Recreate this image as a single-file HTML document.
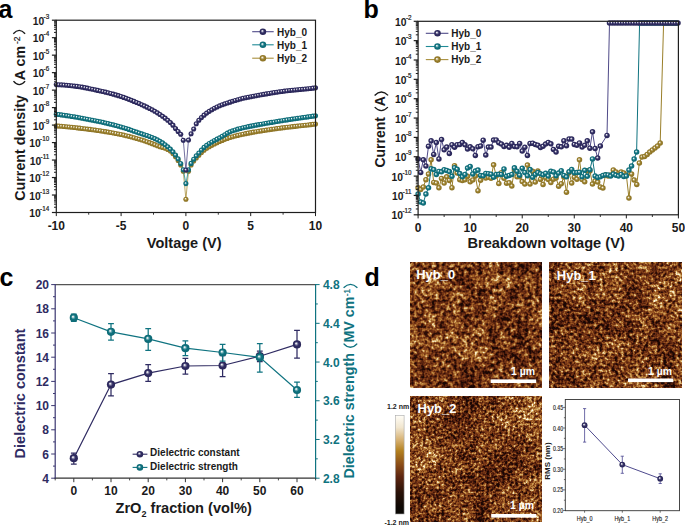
<!DOCTYPE html>
<html><head><meta charset="utf-8"><style>
html,body{margin:0;padding:0;background:#fff;width:685px;height:525px;overflow:hidden}
svg{display:block;font-family:"Liberation Sans",sans-serif}
</style></head><body>
<svg width="685" height="525" viewBox="0 0 685 525" font-family="Liberation Sans, sans-serif">
<defs>
<radialGradient id="gp" cx="0.5" cy="0.5" r="0.5" fx="0.38" fy="0.36"><stop offset="0" stop-color="#ffffff"/><stop offset="0.16" stop-color="#d5d5e0"/><stop offset="0.3" stop-color="#8280a1"/><stop offset="0.55" stop-color="#2f2b62"/><stop offset="1" stop-color="#2a2758"/></radialGradient>
<radialGradient id="gt" cx="0.5" cy="0.5" r="0.5" fx="0.38" fy="0.36"><stop offset="0" stop-color="#ffffff"/><stop offset="0.16" stop-color="#cfe3e6"/><stop offset="0.3" stop-color="#6fabb3"/><stop offset="0.55" stop-color="#0f7380"/><stop offset="1" stop-color="#0e6873"/></radialGradient>
<radialGradient id="gg" cx="0.5" cy="0.5" r="0.5" fx="0.38" fy="0.36"><stop offset="0" stop-color="#ffffff"/><stop offset="0.16" stop-color="#ebe5d4"/><stop offset="0.3" stop-color="#c2b27f"/><stop offset="0.55" stop-color="#9a7f2a"/><stop offset="1" stop-color="#8b7226"/></radialGradient>
<clipPath id="cpa"><rect x="56.3" y="17.2" width="262.2" height="195.3"/></clipPath>
</defs>
<rect width="685" height="525" fill="#ffffff"/>
<text x="-1.5" y="18.2" font-size="25" font-weight="bold" fill="#000">a</text>
<text x="363.5" y="18.2" font-size="25" font-weight="bold" fill="#000">b</text>
<text x="-0.5" y="285.8" font-size="25" font-weight="bold" fill="#000">c</text>
<text x="364.6" y="285.7" font-size="25" font-weight="bold" fill="#000">d</text>
<path d="M56.30 125.90 L58.89 126.10 L61.48 126.31 L64.08 126.53 L66.67 126.77 L69.26 127.03 L71.85 127.29 L74.44 127.56 L77.04 127.85 L79.63 128.15 L82.22 128.45 L84.81 128.77 L87.40 129.09 L90.00 129.42 L92.59 129.75 L95.18 130.11 L97.77 130.47 L100.36 130.85 L102.96 131.25 L105.55 131.66 L108.14 132.10 L110.73 132.54 L113.32 133.01 L115.92 133.50 L118.51 134.00 L121.10 134.53 L123.69 135.09 L126.28 135.70 L128.88 136.35 L131.47 137.04 L134.06 137.76 L136.65 138.50 L139.24 139.26 L141.84 140.04 L144.43 140.86 L147.02 141.73 L149.61 142.65 L152.20 143.63 L154.80 144.66 L157.39 145.70 L159.98 146.67 L162.57 147.49 L165.16 148.32 L167.76 149.40 L170.35 151.07 L172.94 153.62 L175.53 156.68 L178.12 160.39 L180.72 165.00 L183.31 171.20 L185.90 199.30 L188.49 171.20 L191.08 165.00 L193.68 161.00 L196.27 157.92 L198.86 155.20 L201.45 152.54 L204.04 150.25 L206.64 148.31 L209.23 146.69 L211.82 145.34 L214.41 144.04 L217.00 142.71 L219.60 141.50 L222.19 140.40 L224.78 139.37 L227.37 138.41 L229.96 137.54 L232.56 136.77 L235.15 136.07 L237.74 135.42 L240.33 134.81 L242.92 134.23 L245.52 133.66 L248.11 133.13 L250.70 132.63 L253.29 132.17 L255.88 131.73 L258.48 131.30 L261.07 130.88 L263.66 130.48 L266.25 130.09 L268.84 129.70 L271.44 129.33 L274.03 128.97 L276.62 128.61 L279.21 128.26 L281.80 127.92 L284.40 127.58 L286.99 127.26 L289.58 126.95 L292.17 126.66 L294.76 126.38 L297.36 126.10 L299.95 125.82 L302.54 125.54 L305.13 125.26 L307.72 124.97 L310.32 124.67 L312.91 124.35 L315.50 124.00" fill="none" stroke="#a88f3c" stroke-width="0.8"/>
<circle cx="56.30" cy="125.90" r="2.55" fill="url(#gg)"/>
<circle cx="58.89" cy="126.10" r="2.55" fill="url(#gg)"/>
<circle cx="61.48" cy="126.31" r="2.55" fill="url(#gg)"/>
<circle cx="64.08" cy="126.53" r="2.55" fill="url(#gg)"/>
<circle cx="66.67" cy="126.77" r="2.55" fill="url(#gg)"/>
<circle cx="69.26" cy="127.03" r="2.55" fill="url(#gg)"/>
<circle cx="71.85" cy="127.29" r="2.55" fill="url(#gg)"/>
<circle cx="74.44" cy="127.56" r="2.55" fill="url(#gg)"/>
<circle cx="77.04" cy="127.85" r="2.55" fill="url(#gg)"/>
<circle cx="79.63" cy="128.15" r="2.55" fill="url(#gg)"/>
<circle cx="82.22" cy="128.45" r="2.55" fill="url(#gg)"/>
<circle cx="84.81" cy="128.77" r="2.55" fill="url(#gg)"/>
<circle cx="87.40" cy="129.09" r="2.55" fill="url(#gg)"/>
<circle cx="90.00" cy="129.42" r="2.55" fill="url(#gg)"/>
<circle cx="92.59" cy="129.75" r="2.55" fill="url(#gg)"/>
<circle cx="95.18" cy="130.11" r="2.55" fill="url(#gg)"/>
<circle cx="97.77" cy="130.47" r="2.55" fill="url(#gg)"/>
<circle cx="100.36" cy="130.85" r="2.55" fill="url(#gg)"/>
<circle cx="102.96" cy="131.25" r="2.55" fill="url(#gg)"/>
<circle cx="105.55" cy="131.66" r="2.55" fill="url(#gg)"/>
<circle cx="108.14" cy="132.10" r="2.55" fill="url(#gg)"/>
<circle cx="110.73" cy="132.54" r="2.55" fill="url(#gg)"/>
<circle cx="113.32" cy="133.01" r="2.55" fill="url(#gg)"/>
<circle cx="115.92" cy="133.50" r="2.55" fill="url(#gg)"/>
<circle cx="118.51" cy="134.00" r="2.55" fill="url(#gg)"/>
<circle cx="121.10" cy="134.53" r="2.55" fill="url(#gg)"/>
<circle cx="123.69" cy="135.09" r="2.55" fill="url(#gg)"/>
<circle cx="126.28" cy="135.70" r="2.55" fill="url(#gg)"/>
<circle cx="128.88" cy="136.35" r="2.55" fill="url(#gg)"/>
<circle cx="131.47" cy="137.04" r="2.55" fill="url(#gg)"/>
<circle cx="134.06" cy="137.76" r="2.55" fill="url(#gg)"/>
<circle cx="136.65" cy="138.50" r="2.55" fill="url(#gg)"/>
<circle cx="139.24" cy="139.26" r="2.55" fill="url(#gg)"/>
<circle cx="141.84" cy="140.04" r="2.55" fill="url(#gg)"/>
<circle cx="144.43" cy="140.86" r="2.55" fill="url(#gg)"/>
<circle cx="147.02" cy="141.73" r="2.55" fill="url(#gg)"/>
<circle cx="149.61" cy="142.65" r="2.55" fill="url(#gg)"/>
<circle cx="152.20" cy="143.63" r="2.55" fill="url(#gg)"/>
<circle cx="154.80" cy="144.66" r="2.55" fill="url(#gg)"/>
<circle cx="157.39" cy="145.70" r="2.55" fill="url(#gg)"/>
<circle cx="159.98" cy="146.67" r="2.55" fill="url(#gg)"/>
<circle cx="162.57" cy="147.49" r="2.55" fill="url(#gg)"/>
<circle cx="165.16" cy="148.32" r="2.55" fill="url(#gg)"/>
<circle cx="167.76" cy="149.40" r="2.55" fill="url(#gg)"/>
<circle cx="170.35" cy="151.07" r="2.55" fill="url(#gg)"/>
<circle cx="172.94" cy="153.62" r="2.55" fill="url(#gg)"/>
<circle cx="175.53" cy="156.68" r="2.55" fill="url(#gg)"/>
<circle cx="178.12" cy="160.39" r="2.55" fill="url(#gg)"/>
<circle cx="180.72" cy="165.00" r="2.55" fill="url(#gg)"/>
<circle cx="183.31" cy="171.20" r="2.55" fill="url(#gg)"/>
<circle cx="185.90" cy="199.30" r="2.55" fill="url(#gg)"/>
<circle cx="188.49" cy="171.20" r="2.55" fill="url(#gg)"/>
<circle cx="191.08" cy="165.00" r="2.55" fill="url(#gg)"/>
<circle cx="193.68" cy="161.00" r="2.55" fill="url(#gg)"/>
<circle cx="196.27" cy="157.92" r="2.55" fill="url(#gg)"/>
<circle cx="198.86" cy="155.20" r="2.55" fill="url(#gg)"/>
<circle cx="201.45" cy="152.54" r="2.55" fill="url(#gg)"/>
<circle cx="204.04" cy="150.25" r="2.55" fill="url(#gg)"/>
<circle cx="206.64" cy="148.31" r="2.55" fill="url(#gg)"/>
<circle cx="209.23" cy="146.69" r="2.55" fill="url(#gg)"/>
<circle cx="211.82" cy="145.34" r="2.55" fill="url(#gg)"/>
<circle cx="214.41" cy="144.04" r="2.55" fill="url(#gg)"/>
<circle cx="217.00" cy="142.71" r="2.55" fill="url(#gg)"/>
<circle cx="219.60" cy="141.50" r="2.55" fill="url(#gg)"/>
<circle cx="222.19" cy="140.40" r="2.55" fill="url(#gg)"/>
<circle cx="224.78" cy="139.37" r="2.55" fill="url(#gg)"/>
<circle cx="227.37" cy="138.41" r="2.55" fill="url(#gg)"/>
<circle cx="229.96" cy="137.54" r="2.55" fill="url(#gg)"/>
<circle cx="232.56" cy="136.77" r="2.55" fill="url(#gg)"/>
<circle cx="235.15" cy="136.07" r="2.55" fill="url(#gg)"/>
<circle cx="237.74" cy="135.42" r="2.55" fill="url(#gg)"/>
<circle cx="240.33" cy="134.81" r="2.55" fill="url(#gg)"/>
<circle cx="242.92" cy="134.23" r="2.55" fill="url(#gg)"/>
<circle cx="245.52" cy="133.66" r="2.55" fill="url(#gg)"/>
<circle cx="248.11" cy="133.13" r="2.55" fill="url(#gg)"/>
<circle cx="250.70" cy="132.63" r="2.55" fill="url(#gg)"/>
<circle cx="253.29" cy="132.17" r="2.55" fill="url(#gg)"/>
<circle cx="255.88" cy="131.73" r="2.55" fill="url(#gg)"/>
<circle cx="258.48" cy="131.30" r="2.55" fill="url(#gg)"/>
<circle cx="261.07" cy="130.88" r="2.55" fill="url(#gg)"/>
<circle cx="263.66" cy="130.48" r="2.55" fill="url(#gg)"/>
<circle cx="266.25" cy="130.09" r="2.55" fill="url(#gg)"/>
<circle cx="268.84" cy="129.70" r="2.55" fill="url(#gg)"/>
<circle cx="271.44" cy="129.33" r="2.55" fill="url(#gg)"/>
<circle cx="274.03" cy="128.97" r="2.55" fill="url(#gg)"/>
<circle cx="276.62" cy="128.61" r="2.55" fill="url(#gg)"/>
<circle cx="279.21" cy="128.26" r="2.55" fill="url(#gg)"/>
<circle cx="281.80" cy="127.92" r="2.55" fill="url(#gg)"/>
<circle cx="284.40" cy="127.58" r="2.55" fill="url(#gg)"/>
<circle cx="286.99" cy="127.26" r="2.55" fill="url(#gg)"/>
<circle cx="289.58" cy="126.95" r="2.55" fill="url(#gg)"/>
<circle cx="292.17" cy="126.66" r="2.55" fill="url(#gg)"/>
<circle cx="294.76" cy="126.38" r="2.55" fill="url(#gg)"/>
<circle cx="297.36" cy="126.10" r="2.55" fill="url(#gg)"/>
<circle cx="299.95" cy="125.82" r="2.55" fill="url(#gg)"/>
<circle cx="302.54" cy="125.54" r="2.55" fill="url(#gg)"/>
<circle cx="305.13" cy="125.26" r="2.55" fill="url(#gg)"/>
<circle cx="307.72" cy="124.97" r="2.55" fill="url(#gg)"/>
<circle cx="310.32" cy="124.67" r="2.55" fill="url(#gg)"/>
<circle cx="312.91" cy="124.35" r="2.55" fill="url(#gg)"/>
<circle cx="315.50" cy="124.00" r="2.55" fill="url(#gg)"/>
<path d="M56.30 114.20 L58.89 114.53 L61.48 114.88 L64.08 115.25 L66.67 115.63 L69.26 116.03 L71.85 116.44 L74.44 116.87 L77.04 117.31 L79.63 117.76 L82.22 118.22 L84.81 118.70 L87.40 119.18 L90.00 119.68 L92.59 120.18 L95.18 120.70 L97.77 121.24 L100.36 121.80 L102.96 122.37 L105.55 122.97 L108.14 123.58 L110.73 124.21 L113.32 124.86 L115.92 125.53 L118.51 126.22 L121.10 126.94 L123.69 127.70 L126.28 128.51 L128.88 129.38 L131.47 130.27 L134.06 131.18 L136.65 132.09 L139.24 132.99 L141.84 133.86 L144.43 134.68 L147.02 135.52 L149.61 136.45 L152.20 137.48 L154.80 138.62 L157.39 139.87 L159.98 141.29 L162.57 142.89 L165.16 144.71 L167.76 146.74 L170.35 149.06 L172.94 151.81 L175.53 155.01 L178.12 158.84 L180.72 163.50 L183.31 169.70 L185.90 183.60 L188.49 169.70 L191.08 163.40 L193.68 159.20 L196.27 155.80 L198.86 153.00 L201.45 149.98 L204.04 147.38 L206.64 145.30 L209.23 143.51 L211.82 141.95 L214.41 140.50 L217.00 139.15 L219.60 137.80 L222.19 136.29 L224.78 134.69 L227.37 133.15 L229.96 131.83 L232.56 130.81 L235.15 129.94 L237.74 129.16 L240.33 128.46 L242.92 127.81 L245.52 127.21 L248.11 126.67 L250.70 126.15 L253.29 125.65 L255.88 125.15 L258.48 124.67 L261.07 124.20 L263.66 123.73 L266.25 123.27 L268.84 122.83 L271.44 122.39 L274.03 121.95 L276.62 121.53 L279.21 121.10 L281.80 120.69 L284.40 120.28 L286.99 119.88 L289.58 119.48 L292.17 119.10 L294.76 118.72 L297.36 118.35 L299.95 117.98 L302.54 117.62 L305.13 117.25 L307.72 116.89 L310.32 116.53 L312.91 116.16 L315.50 115.80" fill="none" stroke="#1f8a96" stroke-width="0.8"/>
<circle cx="56.30" cy="114.20" r="2.55" fill="url(#gt)"/>
<circle cx="58.89" cy="114.53" r="2.55" fill="url(#gt)"/>
<circle cx="61.48" cy="114.88" r="2.55" fill="url(#gt)"/>
<circle cx="64.08" cy="115.25" r="2.55" fill="url(#gt)"/>
<circle cx="66.67" cy="115.63" r="2.55" fill="url(#gt)"/>
<circle cx="69.26" cy="116.03" r="2.55" fill="url(#gt)"/>
<circle cx="71.85" cy="116.44" r="2.55" fill="url(#gt)"/>
<circle cx="74.44" cy="116.87" r="2.55" fill="url(#gt)"/>
<circle cx="77.04" cy="117.31" r="2.55" fill="url(#gt)"/>
<circle cx="79.63" cy="117.76" r="2.55" fill="url(#gt)"/>
<circle cx="82.22" cy="118.22" r="2.55" fill="url(#gt)"/>
<circle cx="84.81" cy="118.70" r="2.55" fill="url(#gt)"/>
<circle cx="87.40" cy="119.18" r="2.55" fill="url(#gt)"/>
<circle cx="90.00" cy="119.68" r="2.55" fill="url(#gt)"/>
<circle cx="92.59" cy="120.18" r="2.55" fill="url(#gt)"/>
<circle cx="95.18" cy="120.70" r="2.55" fill="url(#gt)"/>
<circle cx="97.77" cy="121.24" r="2.55" fill="url(#gt)"/>
<circle cx="100.36" cy="121.80" r="2.55" fill="url(#gt)"/>
<circle cx="102.96" cy="122.37" r="2.55" fill="url(#gt)"/>
<circle cx="105.55" cy="122.97" r="2.55" fill="url(#gt)"/>
<circle cx="108.14" cy="123.58" r="2.55" fill="url(#gt)"/>
<circle cx="110.73" cy="124.21" r="2.55" fill="url(#gt)"/>
<circle cx="113.32" cy="124.86" r="2.55" fill="url(#gt)"/>
<circle cx="115.92" cy="125.53" r="2.55" fill="url(#gt)"/>
<circle cx="118.51" cy="126.22" r="2.55" fill="url(#gt)"/>
<circle cx="121.10" cy="126.94" r="2.55" fill="url(#gt)"/>
<circle cx="123.69" cy="127.70" r="2.55" fill="url(#gt)"/>
<circle cx="126.28" cy="128.51" r="2.55" fill="url(#gt)"/>
<circle cx="128.88" cy="129.38" r="2.55" fill="url(#gt)"/>
<circle cx="131.47" cy="130.27" r="2.55" fill="url(#gt)"/>
<circle cx="134.06" cy="131.18" r="2.55" fill="url(#gt)"/>
<circle cx="136.65" cy="132.09" r="2.55" fill="url(#gt)"/>
<circle cx="139.24" cy="132.99" r="2.55" fill="url(#gt)"/>
<circle cx="141.84" cy="133.86" r="2.55" fill="url(#gt)"/>
<circle cx="144.43" cy="134.68" r="2.55" fill="url(#gt)"/>
<circle cx="147.02" cy="135.52" r="2.55" fill="url(#gt)"/>
<circle cx="149.61" cy="136.45" r="2.55" fill="url(#gt)"/>
<circle cx="152.20" cy="137.48" r="2.55" fill="url(#gt)"/>
<circle cx="154.80" cy="138.62" r="2.55" fill="url(#gt)"/>
<circle cx="157.39" cy="139.87" r="2.55" fill="url(#gt)"/>
<circle cx="159.98" cy="141.29" r="2.55" fill="url(#gt)"/>
<circle cx="162.57" cy="142.89" r="2.55" fill="url(#gt)"/>
<circle cx="165.16" cy="144.71" r="2.55" fill="url(#gt)"/>
<circle cx="167.76" cy="146.74" r="2.55" fill="url(#gt)"/>
<circle cx="170.35" cy="149.06" r="2.55" fill="url(#gt)"/>
<circle cx="172.94" cy="151.81" r="2.55" fill="url(#gt)"/>
<circle cx="175.53" cy="155.01" r="2.55" fill="url(#gt)"/>
<circle cx="178.12" cy="158.84" r="2.55" fill="url(#gt)"/>
<circle cx="180.72" cy="163.50" r="2.55" fill="url(#gt)"/>
<circle cx="183.31" cy="169.70" r="2.55" fill="url(#gt)"/>
<circle cx="185.90" cy="183.60" r="2.55" fill="url(#gt)"/>
<circle cx="188.49" cy="169.70" r="2.55" fill="url(#gt)"/>
<circle cx="191.08" cy="163.40" r="2.55" fill="url(#gt)"/>
<circle cx="193.68" cy="159.20" r="2.55" fill="url(#gt)"/>
<circle cx="196.27" cy="155.80" r="2.55" fill="url(#gt)"/>
<circle cx="198.86" cy="153.00" r="2.55" fill="url(#gt)"/>
<circle cx="201.45" cy="149.98" r="2.55" fill="url(#gt)"/>
<circle cx="204.04" cy="147.38" r="2.55" fill="url(#gt)"/>
<circle cx="206.64" cy="145.30" r="2.55" fill="url(#gt)"/>
<circle cx="209.23" cy="143.51" r="2.55" fill="url(#gt)"/>
<circle cx="211.82" cy="141.95" r="2.55" fill="url(#gt)"/>
<circle cx="214.41" cy="140.50" r="2.55" fill="url(#gt)"/>
<circle cx="217.00" cy="139.15" r="2.55" fill="url(#gt)"/>
<circle cx="219.60" cy="137.80" r="2.55" fill="url(#gt)"/>
<circle cx="222.19" cy="136.29" r="2.55" fill="url(#gt)"/>
<circle cx="224.78" cy="134.69" r="2.55" fill="url(#gt)"/>
<circle cx="227.37" cy="133.15" r="2.55" fill="url(#gt)"/>
<circle cx="229.96" cy="131.83" r="2.55" fill="url(#gt)"/>
<circle cx="232.56" cy="130.81" r="2.55" fill="url(#gt)"/>
<circle cx="235.15" cy="129.94" r="2.55" fill="url(#gt)"/>
<circle cx="237.74" cy="129.16" r="2.55" fill="url(#gt)"/>
<circle cx="240.33" cy="128.46" r="2.55" fill="url(#gt)"/>
<circle cx="242.92" cy="127.81" r="2.55" fill="url(#gt)"/>
<circle cx="245.52" cy="127.21" r="2.55" fill="url(#gt)"/>
<circle cx="248.11" cy="126.67" r="2.55" fill="url(#gt)"/>
<circle cx="250.70" cy="126.15" r="2.55" fill="url(#gt)"/>
<circle cx="253.29" cy="125.65" r="2.55" fill="url(#gt)"/>
<circle cx="255.88" cy="125.15" r="2.55" fill="url(#gt)"/>
<circle cx="258.48" cy="124.67" r="2.55" fill="url(#gt)"/>
<circle cx="261.07" cy="124.20" r="2.55" fill="url(#gt)"/>
<circle cx="263.66" cy="123.73" r="2.55" fill="url(#gt)"/>
<circle cx="266.25" cy="123.27" r="2.55" fill="url(#gt)"/>
<circle cx="268.84" cy="122.83" r="2.55" fill="url(#gt)"/>
<circle cx="271.44" cy="122.39" r="2.55" fill="url(#gt)"/>
<circle cx="274.03" cy="121.95" r="2.55" fill="url(#gt)"/>
<circle cx="276.62" cy="121.53" r="2.55" fill="url(#gt)"/>
<circle cx="279.21" cy="121.10" r="2.55" fill="url(#gt)"/>
<circle cx="281.80" cy="120.69" r="2.55" fill="url(#gt)"/>
<circle cx="284.40" cy="120.28" r="2.55" fill="url(#gt)"/>
<circle cx="286.99" cy="119.88" r="2.55" fill="url(#gt)"/>
<circle cx="289.58" cy="119.48" r="2.55" fill="url(#gt)"/>
<circle cx="292.17" cy="119.10" r="2.55" fill="url(#gt)"/>
<circle cx="294.76" cy="118.72" r="2.55" fill="url(#gt)"/>
<circle cx="297.36" cy="118.35" r="2.55" fill="url(#gt)"/>
<circle cx="299.95" cy="117.98" r="2.55" fill="url(#gt)"/>
<circle cx="302.54" cy="117.62" r="2.55" fill="url(#gt)"/>
<circle cx="305.13" cy="117.25" r="2.55" fill="url(#gt)"/>
<circle cx="307.72" cy="116.89" r="2.55" fill="url(#gt)"/>
<circle cx="310.32" cy="116.53" r="2.55" fill="url(#gt)"/>
<circle cx="312.91" cy="116.16" r="2.55" fill="url(#gt)"/>
<circle cx="315.50" cy="115.80" r="2.55" fill="url(#gt)"/>
<path d="M56.30 84.60 L58.89 84.71 L61.48 84.86 L64.08 85.05 L66.67 85.27 L69.26 85.52 L71.85 85.79 L74.44 86.08 L77.04 86.38 L79.63 86.74 L82.22 87.16 L84.81 87.64 L87.40 88.16 L90.00 88.70 L92.59 89.27 L95.18 89.83 L97.77 90.40 L100.36 90.97 L102.96 91.55 L105.55 92.16 L108.14 92.79 L110.73 93.46 L113.32 94.15 L115.92 94.88 L118.51 95.66 L121.10 96.49 L123.69 97.39 L126.28 98.34 L128.88 99.33 L131.47 100.36 L134.06 101.41 L136.65 102.48 L139.24 103.57 L141.84 104.71 L144.43 105.90 L147.02 107.14 L149.61 108.44 L152.20 109.82 L154.80 111.28 L157.39 112.84 L159.98 114.50 L162.57 116.27 L165.16 118.17 L167.76 120.25 L170.35 122.55 L172.94 125.17 L175.53 128.47 L178.12 131.44 L180.72 134.20 L183.31 140.20 L185.90 170.00 L188.49 140.00 L191.08 133.80 L193.68 129.00 L196.27 123.80 L198.86 120.31 L201.45 117.55 L204.04 115.16 L206.64 113.11 L209.23 111.35 L211.82 109.75 L214.41 108.28 L217.00 106.96 L219.60 105.79 L222.19 104.76 L224.78 103.84 L227.37 102.98 L229.96 102.15 L232.56 101.31 L235.15 100.49 L237.74 99.69 L240.33 98.96 L242.92 98.32 L245.52 97.75 L248.11 97.23 L250.70 96.74 L253.29 96.26 L255.88 95.78 L258.48 95.29 L261.07 94.82 L263.66 94.35 L266.25 93.89 L268.84 93.44 L271.44 93.00 L274.03 92.58 L276.62 92.18 L279.21 91.79 L281.80 91.43 L284.40 91.08 L286.99 90.77 L289.58 90.48 L292.17 90.21 L294.76 89.95 L297.36 89.71 L299.95 89.47 L302.54 89.23 L305.13 88.98 L307.72 88.72 L310.32 88.44 L312.91 88.14 L315.50 87.80" fill="none" stroke="#4f4a88" stroke-width="0.8"/>
<circle cx="56.30" cy="84.60" r="2.55" fill="url(#gp)"/>
<circle cx="58.89" cy="84.71" r="2.55" fill="url(#gp)"/>
<circle cx="61.48" cy="84.86" r="2.55" fill="url(#gp)"/>
<circle cx="64.08" cy="85.05" r="2.55" fill="url(#gp)"/>
<circle cx="66.67" cy="85.27" r="2.55" fill="url(#gp)"/>
<circle cx="69.26" cy="85.52" r="2.55" fill="url(#gp)"/>
<circle cx="71.85" cy="85.79" r="2.55" fill="url(#gp)"/>
<circle cx="74.44" cy="86.08" r="2.55" fill="url(#gp)"/>
<circle cx="77.04" cy="86.38" r="2.55" fill="url(#gp)"/>
<circle cx="79.63" cy="86.74" r="2.55" fill="url(#gp)"/>
<circle cx="82.22" cy="87.16" r="2.55" fill="url(#gp)"/>
<circle cx="84.81" cy="87.64" r="2.55" fill="url(#gp)"/>
<circle cx="87.40" cy="88.16" r="2.55" fill="url(#gp)"/>
<circle cx="90.00" cy="88.70" r="2.55" fill="url(#gp)"/>
<circle cx="92.59" cy="89.27" r="2.55" fill="url(#gp)"/>
<circle cx="95.18" cy="89.83" r="2.55" fill="url(#gp)"/>
<circle cx="97.77" cy="90.40" r="2.55" fill="url(#gp)"/>
<circle cx="100.36" cy="90.97" r="2.55" fill="url(#gp)"/>
<circle cx="102.96" cy="91.55" r="2.55" fill="url(#gp)"/>
<circle cx="105.55" cy="92.16" r="2.55" fill="url(#gp)"/>
<circle cx="108.14" cy="92.79" r="2.55" fill="url(#gp)"/>
<circle cx="110.73" cy="93.46" r="2.55" fill="url(#gp)"/>
<circle cx="113.32" cy="94.15" r="2.55" fill="url(#gp)"/>
<circle cx="115.92" cy="94.88" r="2.55" fill="url(#gp)"/>
<circle cx="118.51" cy="95.66" r="2.55" fill="url(#gp)"/>
<circle cx="121.10" cy="96.49" r="2.55" fill="url(#gp)"/>
<circle cx="123.69" cy="97.39" r="2.55" fill="url(#gp)"/>
<circle cx="126.28" cy="98.34" r="2.55" fill="url(#gp)"/>
<circle cx="128.88" cy="99.33" r="2.55" fill="url(#gp)"/>
<circle cx="131.47" cy="100.36" r="2.55" fill="url(#gp)"/>
<circle cx="134.06" cy="101.41" r="2.55" fill="url(#gp)"/>
<circle cx="136.65" cy="102.48" r="2.55" fill="url(#gp)"/>
<circle cx="139.24" cy="103.57" r="2.55" fill="url(#gp)"/>
<circle cx="141.84" cy="104.71" r="2.55" fill="url(#gp)"/>
<circle cx="144.43" cy="105.90" r="2.55" fill="url(#gp)"/>
<circle cx="147.02" cy="107.14" r="2.55" fill="url(#gp)"/>
<circle cx="149.61" cy="108.44" r="2.55" fill="url(#gp)"/>
<circle cx="152.20" cy="109.82" r="2.55" fill="url(#gp)"/>
<circle cx="154.80" cy="111.28" r="2.55" fill="url(#gp)"/>
<circle cx="157.39" cy="112.84" r="2.55" fill="url(#gp)"/>
<circle cx="159.98" cy="114.50" r="2.55" fill="url(#gp)"/>
<circle cx="162.57" cy="116.27" r="2.55" fill="url(#gp)"/>
<circle cx="165.16" cy="118.17" r="2.55" fill="url(#gp)"/>
<circle cx="167.76" cy="120.25" r="2.55" fill="url(#gp)"/>
<circle cx="170.35" cy="122.55" r="2.55" fill="url(#gp)"/>
<circle cx="172.94" cy="125.17" r="2.55" fill="url(#gp)"/>
<circle cx="175.53" cy="128.47" r="2.55" fill="url(#gp)"/>
<circle cx="178.12" cy="131.44" r="2.55" fill="url(#gp)"/>
<circle cx="180.72" cy="134.20" r="2.55" fill="url(#gp)"/>
<circle cx="183.31" cy="140.20" r="2.55" fill="url(#gp)"/>
<circle cx="185.90" cy="170.00" r="2.55" fill="url(#gp)"/>
<circle cx="188.49" cy="140.00" r="2.55" fill="url(#gp)"/>
<circle cx="191.08" cy="133.80" r="2.55" fill="url(#gp)"/>
<circle cx="193.68" cy="129.00" r="2.55" fill="url(#gp)"/>
<circle cx="196.27" cy="123.80" r="2.55" fill="url(#gp)"/>
<circle cx="198.86" cy="120.31" r="2.55" fill="url(#gp)"/>
<circle cx="201.45" cy="117.55" r="2.55" fill="url(#gp)"/>
<circle cx="204.04" cy="115.16" r="2.55" fill="url(#gp)"/>
<circle cx="206.64" cy="113.11" r="2.55" fill="url(#gp)"/>
<circle cx="209.23" cy="111.35" r="2.55" fill="url(#gp)"/>
<circle cx="211.82" cy="109.75" r="2.55" fill="url(#gp)"/>
<circle cx="214.41" cy="108.28" r="2.55" fill="url(#gp)"/>
<circle cx="217.00" cy="106.96" r="2.55" fill="url(#gp)"/>
<circle cx="219.60" cy="105.79" r="2.55" fill="url(#gp)"/>
<circle cx="222.19" cy="104.76" r="2.55" fill="url(#gp)"/>
<circle cx="224.78" cy="103.84" r="2.55" fill="url(#gp)"/>
<circle cx="227.37" cy="102.98" r="2.55" fill="url(#gp)"/>
<circle cx="229.96" cy="102.15" r="2.55" fill="url(#gp)"/>
<circle cx="232.56" cy="101.31" r="2.55" fill="url(#gp)"/>
<circle cx="235.15" cy="100.49" r="2.55" fill="url(#gp)"/>
<circle cx="237.74" cy="99.69" r="2.55" fill="url(#gp)"/>
<circle cx="240.33" cy="98.96" r="2.55" fill="url(#gp)"/>
<circle cx="242.92" cy="98.32" r="2.55" fill="url(#gp)"/>
<circle cx="245.52" cy="97.75" r="2.55" fill="url(#gp)"/>
<circle cx="248.11" cy="97.23" r="2.55" fill="url(#gp)"/>
<circle cx="250.70" cy="96.74" r="2.55" fill="url(#gp)"/>
<circle cx="253.29" cy="96.26" r="2.55" fill="url(#gp)"/>
<circle cx="255.88" cy="95.78" r="2.55" fill="url(#gp)"/>
<circle cx="258.48" cy="95.29" r="2.55" fill="url(#gp)"/>
<circle cx="261.07" cy="94.82" r="2.55" fill="url(#gp)"/>
<circle cx="263.66" cy="94.35" r="2.55" fill="url(#gp)"/>
<circle cx="266.25" cy="93.89" r="2.55" fill="url(#gp)"/>
<circle cx="268.84" cy="93.44" r="2.55" fill="url(#gp)"/>
<circle cx="271.44" cy="93.00" r="2.55" fill="url(#gp)"/>
<circle cx="274.03" cy="92.58" r="2.55" fill="url(#gp)"/>
<circle cx="276.62" cy="92.18" r="2.55" fill="url(#gp)"/>
<circle cx="279.21" cy="91.79" r="2.55" fill="url(#gp)"/>
<circle cx="281.80" cy="91.43" r="2.55" fill="url(#gp)"/>
<circle cx="284.40" cy="91.08" r="2.55" fill="url(#gp)"/>
<circle cx="286.99" cy="90.77" r="2.55" fill="url(#gp)"/>
<circle cx="289.58" cy="90.48" r="2.55" fill="url(#gp)"/>
<circle cx="292.17" cy="90.21" r="2.55" fill="url(#gp)"/>
<circle cx="294.76" cy="89.95" r="2.55" fill="url(#gp)"/>
<circle cx="297.36" cy="89.71" r="2.55" fill="url(#gp)"/>
<circle cx="299.95" cy="89.47" r="2.55" fill="url(#gp)"/>
<circle cx="302.54" cy="89.23" r="2.55" fill="url(#gp)"/>
<circle cx="305.13" cy="88.98" r="2.55" fill="url(#gp)"/>
<circle cx="307.72" cy="88.72" r="2.55" fill="url(#gp)"/>
<circle cx="310.32" cy="88.44" r="2.55" fill="url(#gp)"/>
<circle cx="312.91" cy="88.14" r="2.55" fill="url(#gp)"/>
<circle cx="315.50" cy="87.80" r="2.55" fill="url(#gp)"/>
<rect x="56.3" y="20.2" width="259.2" height="192.3" fill="none" stroke="#1e1e1e" stroke-width="1.2"/>
<line x1="51.90" y1="212.50" x2="56.30" y2="212.50" stroke="#1e1e1e" stroke-width="1.2"/>
<line x1="54.00" y1="207.24" x2="56.30" y2="207.24" stroke="#1e1e1e" stroke-width="1"/>
<line x1="54.00" y1="204.16" x2="56.30" y2="204.16" stroke="#1e1e1e" stroke-width="1"/>
<line x1="54.00" y1="201.97" x2="56.30" y2="201.97" stroke="#1e1e1e" stroke-width="1"/>
<line x1="54.00" y1="200.28" x2="56.30" y2="200.28" stroke="#1e1e1e" stroke-width="1"/>
<line x1="54.00" y1="198.90" x2="56.30" y2="198.90" stroke="#1e1e1e" stroke-width="1"/>
<line x1="54.00" y1="197.73" x2="56.30" y2="197.73" stroke="#1e1e1e" stroke-width="1"/>
<line x1="54.00" y1="196.71" x2="56.30" y2="196.71" stroke="#1e1e1e" stroke-width="1"/>
<line x1="54.00" y1="195.82" x2="56.30" y2="195.82" stroke="#1e1e1e" stroke-width="1"/>
<text x="49.20" y="217.00" font-size="10.3" font-weight="bold" fill="#1a1a1a" text-anchor="end">10<tspan font-size="6.3" font-weight="normal" stroke="#1a1a1a" stroke-width="0.2" dx="-0.6" dy="-6.0">-14</tspan></text>
<line x1="51.90" y1="195.02" x2="56.30" y2="195.02" stroke="#1e1e1e" stroke-width="1.2"/>
<line x1="54.00" y1="189.76" x2="56.30" y2="189.76" stroke="#1e1e1e" stroke-width="1"/>
<line x1="54.00" y1="186.68" x2="56.30" y2="186.68" stroke="#1e1e1e" stroke-width="1"/>
<line x1="54.00" y1="184.49" x2="56.30" y2="184.49" stroke="#1e1e1e" stroke-width="1"/>
<line x1="54.00" y1="182.80" x2="56.30" y2="182.80" stroke="#1e1e1e" stroke-width="1"/>
<line x1="54.00" y1="181.41" x2="56.30" y2="181.41" stroke="#1e1e1e" stroke-width="1"/>
<line x1="54.00" y1="180.24" x2="56.30" y2="180.24" stroke="#1e1e1e" stroke-width="1"/>
<line x1="54.00" y1="179.23" x2="56.30" y2="179.23" stroke="#1e1e1e" stroke-width="1"/>
<line x1="54.00" y1="178.34" x2="56.30" y2="178.34" stroke="#1e1e1e" stroke-width="1"/>
<text x="49.20" y="199.52" font-size="10.3" font-weight="bold" fill="#1a1a1a" text-anchor="end">10<tspan font-size="6.3" font-weight="normal" stroke="#1a1a1a" stroke-width="0.2" dx="-0.6" dy="-6.0">-13</tspan></text>
<line x1="51.90" y1="177.54" x2="56.30" y2="177.54" stroke="#1e1e1e" stroke-width="1.2"/>
<line x1="54.00" y1="172.27" x2="56.30" y2="172.27" stroke="#1e1e1e" stroke-width="1"/>
<line x1="54.00" y1="169.20" x2="56.30" y2="169.20" stroke="#1e1e1e" stroke-width="1"/>
<line x1="54.00" y1="167.01" x2="56.30" y2="167.01" stroke="#1e1e1e" stroke-width="1"/>
<line x1="54.00" y1="165.32" x2="56.30" y2="165.32" stroke="#1e1e1e" stroke-width="1"/>
<line x1="54.00" y1="163.93" x2="56.30" y2="163.93" stroke="#1e1e1e" stroke-width="1"/>
<line x1="54.00" y1="162.76" x2="56.30" y2="162.76" stroke="#1e1e1e" stroke-width="1"/>
<line x1="54.00" y1="161.75" x2="56.30" y2="161.75" stroke="#1e1e1e" stroke-width="1"/>
<line x1="54.00" y1="160.85" x2="56.30" y2="160.85" stroke="#1e1e1e" stroke-width="1"/>
<text x="49.20" y="182.04" font-size="10.3" font-weight="bold" fill="#1a1a1a" text-anchor="end">10<tspan font-size="6.3" font-weight="normal" stroke="#1a1a1a" stroke-width="0.2" dx="-0.6" dy="-6.0">-12</tspan></text>
<line x1="51.90" y1="160.05" x2="56.30" y2="160.05" stroke="#1e1e1e" stroke-width="1.2"/>
<line x1="54.00" y1="154.79" x2="56.30" y2="154.79" stroke="#1e1e1e" stroke-width="1"/>
<line x1="54.00" y1="151.71" x2="56.30" y2="151.71" stroke="#1e1e1e" stroke-width="1"/>
<line x1="54.00" y1="149.53" x2="56.30" y2="149.53" stroke="#1e1e1e" stroke-width="1"/>
<line x1="54.00" y1="147.84" x2="56.30" y2="147.84" stroke="#1e1e1e" stroke-width="1"/>
<line x1="54.00" y1="146.45" x2="56.30" y2="146.45" stroke="#1e1e1e" stroke-width="1"/>
<line x1="54.00" y1="145.28" x2="56.30" y2="145.28" stroke="#1e1e1e" stroke-width="1"/>
<line x1="54.00" y1="144.27" x2="56.30" y2="144.27" stroke="#1e1e1e" stroke-width="1"/>
<line x1="54.00" y1="143.37" x2="56.30" y2="143.37" stroke="#1e1e1e" stroke-width="1"/>
<text x="49.20" y="164.55" font-size="10.3" font-weight="bold" fill="#1a1a1a" text-anchor="end">10<tspan font-size="6.3" font-weight="normal" stroke="#1a1a1a" stroke-width="0.2" dx="-0.6" dy="-6.0">-11</tspan></text>
<line x1="51.90" y1="142.57" x2="56.30" y2="142.57" stroke="#1e1e1e" stroke-width="1.2"/>
<line x1="54.00" y1="137.31" x2="56.30" y2="137.31" stroke="#1e1e1e" stroke-width="1"/>
<line x1="54.00" y1="134.23" x2="56.30" y2="134.23" stroke="#1e1e1e" stroke-width="1"/>
<line x1="54.00" y1="132.05" x2="56.30" y2="132.05" stroke="#1e1e1e" stroke-width="1"/>
<line x1="54.00" y1="130.35" x2="56.30" y2="130.35" stroke="#1e1e1e" stroke-width="1"/>
<line x1="54.00" y1="128.97" x2="56.30" y2="128.97" stroke="#1e1e1e" stroke-width="1"/>
<line x1="54.00" y1="127.80" x2="56.30" y2="127.80" stroke="#1e1e1e" stroke-width="1"/>
<line x1="54.00" y1="126.79" x2="56.30" y2="126.79" stroke="#1e1e1e" stroke-width="1"/>
<line x1="54.00" y1="125.89" x2="56.30" y2="125.89" stroke="#1e1e1e" stroke-width="1"/>
<text x="49.20" y="147.07" font-size="10.3" font-weight="bold" fill="#1a1a1a" text-anchor="end">10<tspan font-size="6.3" font-weight="normal" stroke="#1a1a1a" stroke-width="0.2" dx="-0.6" dy="-6.0">-10</tspan></text>
<line x1="51.90" y1="125.09" x2="56.30" y2="125.09" stroke="#1e1e1e" stroke-width="1.2"/>
<line x1="54.00" y1="119.83" x2="56.30" y2="119.83" stroke="#1e1e1e" stroke-width="1"/>
<line x1="54.00" y1="116.75" x2="56.30" y2="116.75" stroke="#1e1e1e" stroke-width="1"/>
<line x1="54.00" y1="114.57" x2="56.30" y2="114.57" stroke="#1e1e1e" stroke-width="1"/>
<line x1="54.00" y1="112.87" x2="56.30" y2="112.87" stroke="#1e1e1e" stroke-width="1"/>
<line x1="54.00" y1="111.49" x2="56.30" y2="111.49" stroke="#1e1e1e" stroke-width="1"/>
<line x1="54.00" y1="110.32" x2="56.30" y2="110.32" stroke="#1e1e1e" stroke-width="1"/>
<line x1="54.00" y1="109.30" x2="56.30" y2="109.30" stroke="#1e1e1e" stroke-width="1"/>
<line x1="54.00" y1="108.41" x2="56.30" y2="108.41" stroke="#1e1e1e" stroke-width="1"/>
<text x="49.20" y="129.59" font-size="10.3" font-weight="bold" fill="#1a1a1a" text-anchor="end">10<tspan font-size="6.3" font-weight="normal" stroke="#1a1a1a" stroke-width="0.2" dx="-0.6" dy="-6.0">-9</tspan></text>
<line x1="51.90" y1="107.61" x2="56.30" y2="107.61" stroke="#1e1e1e" stroke-width="1.2"/>
<line x1="54.00" y1="102.35" x2="56.30" y2="102.35" stroke="#1e1e1e" stroke-width="1"/>
<line x1="54.00" y1="99.27" x2="56.30" y2="99.27" stroke="#1e1e1e" stroke-width="1"/>
<line x1="54.00" y1="97.08" x2="56.30" y2="97.08" stroke="#1e1e1e" stroke-width="1"/>
<line x1="54.00" y1="95.39" x2="56.30" y2="95.39" stroke="#1e1e1e" stroke-width="1"/>
<line x1="54.00" y1="94.01" x2="56.30" y2="94.01" stroke="#1e1e1e" stroke-width="1"/>
<line x1="54.00" y1="92.84" x2="56.30" y2="92.84" stroke="#1e1e1e" stroke-width="1"/>
<line x1="54.00" y1="91.82" x2="56.30" y2="91.82" stroke="#1e1e1e" stroke-width="1"/>
<line x1="54.00" y1="90.93" x2="56.30" y2="90.93" stroke="#1e1e1e" stroke-width="1"/>
<text x="49.20" y="112.11" font-size="10.3" font-weight="bold" fill="#1a1a1a" text-anchor="end">10<tspan font-size="6.3" font-weight="normal" stroke="#1a1a1a" stroke-width="0.2" dx="-0.6" dy="-6.0">-8</tspan></text>
<line x1="51.90" y1="90.13" x2="56.30" y2="90.13" stroke="#1e1e1e" stroke-width="1.2"/>
<line x1="54.00" y1="84.86" x2="56.30" y2="84.86" stroke="#1e1e1e" stroke-width="1"/>
<line x1="54.00" y1="81.79" x2="56.30" y2="81.79" stroke="#1e1e1e" stroke-width="1"/>
<line x1="54.00" y1="79.60" x2="56.30" y2="79.60" stroke="#1e1e1e" stroke-width="1"/>
<line x1="54.00" y1="77.91" x2="56.30" y2="77.91" stroke="#1e1e1e" stroke-width="1"/>
<line x1="54.00" y1="76.52" x2="56.30" y2="76.52" stroke="#1e1e1e" stroke-width="1"/>
<line x1="54.00" y1="75.35" x2="56.30" y2="75.35" stroke="#1e1e1e" stroke-width="1"/>
<line x1="54.00" y1="74.34" x2="56.30" y2="74.34" stroke="#1e1e1e" stroke-width="1"/>
<line x1="54.00" y1="73.45" x2="56.30" y2="73.45" stroke="#1e1e1e" stroke-width="1"/>
<text x="49.20" y="94.63" font-size="10.3" font-weight="bold" fill="#1a1a1a" text-anchor="end">10<tspan font-size="6.3" font-weight="normal" stroke="#1a1a1a" stroke-width="0.2" dx="-0.6" dy="-6.0">-7</tspan></text>
<line x1="51.90" y1="72.65" x2="56.30" y2="72.65" stroke="#1e1e1e" stroke-width="1.2"/>
<line x1="54.00" y1="67.38" x2="56.30" y2="67.38" stroke="#1e1e1e" stroke-width="1"/>
<line x1="54.00" y1="64.30" x2="56.30" y2="64.30" stroke="#1e1e1e" stroke-width="1"/>
<line x1="54.00" y1="62.12" x2="56.30" y2="62.12" stroke="#1e1e1e" stroke-width="1"/>
<line x1="54.00" y1="60.43" x2="56.30" y2="60.43" stroke="#1e1e1e" stroke-width="1"/>
<line x1="54.00" y1="59.04" x2="56.30" y2="59.04" stroke="#1e1e1e" stroke-width="1"/>
<line x1="54.00" y1="57.87" x2="56.30" y2="57.87" stroke="#1e1e1e" stroke-width="1"/>
<line x1="54.00" y1="56.86" x2="56.30" y2="56.86" stroke="#1e1e1e" stroke-width="1"/>
<line x1="54.00" y1="55.96" x2="56.30" y2="55.96" stroke="#1e1e1e" stroke-width="1"/>
<text x="49.20" y="77.15" font-size="10.3" font-weight="bold" fill="#1a1a1a" text-anchor="end">10<tspan font-size="6.3" font-weight="normal" stroke="#1a1a1a" stroke-width="0.2" dx="-0.6" dy="-6.0">-6</tspan></text>
<line x1="51.90" y1="55.16" x2="56.30" y2="55.16" stroke="#1e1e1e" stroke-width="1.2"/>
<line x1="54.00" y1="49.90" x2="56.30" y2="49.90" stroke="#1e1e1e" stroke-width="1"/>
<line x1="54.00" y1="46.82" x2="56.30" y2="46.82" stroke="#1e1e1e" stroke-width="1"/>
<line x1="54.00" y1="44.64" x2="56.30" y2="44.64" stroke="#1e1e1e" stroke-width="1"/>
<line x1="54.00" y1="42.94" x2="56.30" y2="42.94" stroke="#1e1e1e" stroke-width="1"/>
<line x1="54.00" y1="41.56" x2="56.30" y2="41.56" stroke="#1e1e1e" stroke-width="1"/>
<line x1="54.00" y1="40.39" x2="56.30" y2="40.39" stroke="#1e1e1e" stroke-width="1"/>
<line x1="54.00" y1="39.38" x2="56.30" y2="39.38" stroke="#1e1e1e" stroke-width="1"/>
<line x1="54.00" y1="38.48" x2="56.30" y2="38.48" stroke="#1e1e1e" stroke-width="1"/>
<text x="49.20" y="59.66" font-size="10.3" font-weight="bold" fill="#1a1a1a" text-anchor="end">10<tspan font-size="6.3" font-weight="normal" stroke="#1a1a1a" stroke-width="0.2" dx="-0.6" dy="-6.0">-5</tspan></text>
<line x1="51.90" y1="37.68" x2="56.30" y2="37.68" stroke="#1e1e1e" stroke-width="1.2"/>
<line x1="54.00" y1="32.42" x2="56.30" y2="32.42" stroke="#1e1e1e" stroke-width="1"/>
<line x1="54.00" y1="29.34" x2="56.30" y2="29.34" stroke="#1e1e1e" stroke-width="1"/>
<line x1="54.00" y1="27.16" x2="56.30" y2="27.16" stroke="#1e1e1e" stroke-width="1"/>
<line x1="54.00" y1="25.46" x2="56.30" y2="25.46" stroke="#1e1e1e" stroke-width="1"/>
<line x1="54.00" y1="24.08" x2="56.30" y2="24.08" stroke="#1e1e1e" stroke-width="1"/>
<line x1="54.00" y1="22.91" x2="56.30" y2="22.91" stroke="#1e1e1e" stroke-width="1"/>
<line x1="54.00" y1="21.89" x2="56.30" y2="21.89" stroke="#1e1e1e" stroke-width="1"/>
<line x1="54.00" y1="21.00" x2="56.30" y2="21.00" stroke="#1e1e1e" stroke-width="1"/>
<text x="49.20" y="42.18" font-size="10.3" font-weight="bold" fill="#1a1a1a" text-anchor="end">10<tspan font-size="6.3" font-weight="normal" stroke="#1a1a1a" stroke-width="0.2" dx="-0.6" dy="-6.0">-4</tspan></text>
<line x1="51.90" y1="20.20" x2="56.30" y2="20.20" stroke="#1e1e1e" stroke-width="1.2"/>
<text x="49.20" y="24.70" font-size="10.3" font-weight="bold" fill="#1a1a1a" text-anchor="end">10<tspan font-size="6.3" font-weight="normal" stroke="#1a1a1a" stroke-width="0.2" dx="-0.6" dy="-6.0">-3</tspan></text>
<line x1="56.30" y1="212.50" x2="56.30" y2="216.10" stroke="#1e1e1e" stroke-width="1"/>
<text x="56.30" y="230.30" font-size="12" font-weight="bold" fill="#1a1a1a" text-anchor="middle">-10</text>
<line x1="121.10" y1="212.50" x2="121.10" y2="216.10" stroke="#1e1e1e" stroke-width="1"/>
<text x="121.10" y="230.30" font-size="12" font-weight="bold" fill="#1a1a1a" text-anchor="middle">-5</text>
<line x1="185.90" y1="212.50" x2="185.90" y2="216.10" stroke="#1e1e1e" stroke-width="1"/>
<text x="185.90" y="230.30" font-size="12" font-weight="bold" fill="#1a1a1a" text-anchor="middle">0</text>
<line x1="250.70" y1="212.50" x2="250.70" y2="216.10" stroke="#1e1e1e" stroke-width="1"/>
<text x="250.70" y="230.30" font-size="12" font-weight="bold" fill="#1a1a1a" text-anchor="middle">5</text>
<line x1="315.50" y1="212.50" x2="315.50" y2="216.10" stroke="#1e1e1e" stroke-width="1"/>
<text x="315.50" y="230.30" font-size="12" font-weight="bold" fill="#1a1a1a" text-anchor="middle">10</text>
<line x1="88.70" y1="212.50" x2="88.70" y2="214.70" stroke="#1e1e1e" stroke-width="0.9"/>
<line x1="153.50" y1="212.50" x2="153.50" y2="214.70" stroke="#1e1e1e" stroke-width="0.9"/>
<line x1="218.30" y1="212.50" x2="218.30" y2="214.70" stroke="#1e1e1e" stroke-width="0.9"/>
<line x1="283.10" y1="212.50" x2="283.10" y2="214.70" stroke="#1e1e1e" stroke-width="0.9"/>
<line x1="252.2" y1="31.7" x2="273.7" y2="31.7" stroke="#4f4a88" stroke-width="1.1"/>
<circle cx="262.9" cy="31.7" r="3.3" fill="url(#gp)"/>
<text x="277" y="32.0" font-size="10" font-weight="bold" fill="#1a1a1a" dominant-baseline="central">Hyb_0</text>
<line x1="252.2" y1="44.8" x2="273.7" y2="44.8" stroke="#1f8a96" stroke-width="1.1"/>
<circle cx="262.9" cy="44.8" r="3.3" fill="url(#gt)"/>
<text x="277" y="45.099999999999994" font-size="10" font-weight="bold" fill="#1a1a1a" dominant-baseline="central">Hyb_1</text>
<line x1="252.2" y1="58.2" x2="273.7" y2="58.2" stroke="#a88f3c" stroke-width="1.1"/>
<circle cx="262.9" cy="58.2" r="3.3" fill="url(#gg)"/>
<text x="277" y="58.5" font-size="10" font-weight="bold" fill="#1a1a1a" dominant-baseline="central">Hyb_2</text>
<text x="184.2" y="247.6" font-size="14.5" font-weight="bold" fill="#1a1a1a" text-anchor="middle">Voltage (V)</text>
<g transform="rotate(-90)" fill="#1a1a1a"><text x="-200.8" y="24.6" font-size="14.3" font-weight="bold">Current density</text><path d="M-81.1 13.5 Q-88.1 19.3 -81.1 25.1" fill="none" stroke="#1a1a1a" stroke-width="1.35"/><text x="-80.3" y="24.6" font-size="14.3" font-weight="bold">A cm</text><text x="-44.0" y="19.5" font-size="8.5" stroke="#1a1a1a" stroke-width="0.2">-2</text><path d="M-33.7 13.3 Q-26.9 19.2 -33.7 25.1" fill="none" stroke="#1a1a1a" stroke-width="1.35"/></g>
<path d="M418.10 187.80 L420.70 189.60 L423.31 187.00 L425.91 179.70 L428.51 174.00 L431.12 159.80 L433.72 182.40 L436.32 183.00 L438.92 187.80 L441.53 178.43 L444.13 183.12 L446.73 176.82 L449.34 180.43 L451.94 187.69 L454.54 165.68 L457.15 172.88 L459.75 179.72 L462.35 180.49 L464.95 179.69 L467.56 176.34 L470.16 181.78 L472.76 179.91 L475.37 175.89 L477.97 190.65 L480.57 180.28 L483.18 175.73 L485.78 178.00 L488.38 177.37 L490.98 178.19 L493.59 164.86 L496.19 176.07 L498.79 183.54 L501.40 172.66 L504.00 178.17 L506.60 183.27 L509.20 182.78 L511.81 185.96 L514.41 169.99 L517.01 176.73 L519.62 176.80 L522.22 181.62 L524.82 183.96 L527.43 165.09 L530.03 183.94 L532.63 171.26 L535.24 181.92 L537.84 171.04 L540.44 179.38 L543.04 184.47 L545.65 177.75 L548.25 179.46 L550.85 182.49 L553.46 179.21 L556.06 178.06 L558.66 186.17 L561.26 183.74 L563.87 177.03 L566.47 192.23 L569.07 172.77 L571.68 183.07 L574.28 177.17 L576.88 179.16 L579.49 159.80 L582.09 179.61 L584.69 181.69 L587.29 170.86 L589.90 170.95 L592.50 184.00 L595.10 181.00 L597.71 182.00 L600.31 187.00 L602.91 188.00 L605.52 175.00 L608.12 176.00 L610.72 175.00 L613.33 170.00 L615.93 172.00 L618.53 174.00 L621.13 172.00 L623.74 173.00 L626.34 175.00 L628.94 198.00 L631.55 174.00 L634.15 180.00 L636.75 184.40 L639.36 163.00 L641.96 157.00 L644.56 156.50 L647.16 154.50 L649.77 152.00 L652.37 150.00 L654.97 148.00 L657.58 146.00 L660.20 143.00 L663.60 22.90 L666.24 22.90 L668.87 22.90 L671.50 22.90 L674.14 22.90 L676.77 22.90" fill="none" stroke="#9a7f2a" stroke-width="1"/>
<circle cx="418.10" cy="187.80" r="2.75" fill="url(#gg)"/>
<circle cx="420.70" cy="189.60" r="2.75" fill="url(#gg)"/>
<circle cx="423.31" cy="187.00" r="2.75" fill="url(#gg)"/>
<circle cx="425.91" cy="179.70" r="2.75" fill="url(#gg)"/>
<circle cx="428.51" cy="174.00" r="2.75" fill="url(#gg)"/>
<circle cx="431.12" cy="159.80" r="2.75" fill="url(#gg)"/>
<circle cx="433.72" cy="182.40" r="2.75" fill="url(#gg)"/>
<circle cx="436.32" cy="183.00" r="2.75" fill="url(#gg)"/>
<circle cx="438.92" cy="187.80" r="2.75" fill="url(#gg)"/>
<circle cx="441.53" cy="178.43" r="2.75" fill="url(#gg)"/>
<circle cx="444.13" cy="183.12" r="2.75" fill="url(#gg)"/>
<circle cx="446.73" cy="176.82" r="2.75" fill="url(#gg)"/>
<circle cx="449.34" cy="180.43" r="2.75" fill="url(#gg)"/>
<circle cx="451.94" cy="187.69" r="2.75" fill="url(#gg)"/>
<circle cx="454.54" cy="165.68" r="2.75" fill="url(#gg)"/>
<circle cx="457.15" cy="172.88" r="2.75" fill="url(#gg)"/>
<circle cx="459.75" cy="179.72" r="2.75" fill="url(#gg)"/>
<circle cx="462.35" cy="180.49" r="2.75" fill="url(#gg)"/>
<circle cx="464.95" cy="179.69" r="2.75" fill="url(#gg)"/>
<circle cx="467.56" cy="176.34" r="2.75" fill="url(#gg)"/>
<circle cx="470.16" cy="181.78" r="2.75" fill="url(#gg)"/>
<circle cx="472.76" cy="179.91" r="2.75" fill="url(#gg)"/>
<circle cx="475.37" cy="175.89" r="2.75" fill="url(#gg)"/>
<circle cx="477.97" cy="190.65" r="2.75" fill="url(#gg)"/>
<circle cx="480.57" cy="180.28" r="2.75" fill="url(#gg)"/>
<circle cx="483.18" cy="175.73" r="2.75" fill="url(#gg)"/>
<circle cx="485.78" cy="178.00" r="2.75" fill="url(#gg)"/>
<circle cx="488.38" cy="177.37" r="2.75" fill="url(#gg)"/>
<circle cx="490.98" cy="178.19" r="2.75" fill="url(#gg)"/>
<circle cx="493.59" cy="164.86" r="2.75" fill="url(#gg)"/>
<circle cx="496.19" cy="176.07" r="2.75" fill="url(#gg)"/>
<circle cx="498.79" cy="183.54" r="2.75" fill="url(#gg)"/>
<circle cx="501.40" cy="172.66" r="2.75" fill="url(#gg)"/>
<circle cx="504.00" cy="178.17" r="2.75" fill="url(#gg)"/>
<circle cx="506.60" cy="183.27" r="2.75" fill="url(#gg)"/>
<circle cx="509.20" cy="182.78" r="2.75" fill="url(#gg)"/>
<circle cx="511.81" cy="185.96" r="2.75" fill="url(#gg)"/>
<circle cx="514.41" cy="169.99" r="2.75" fill="url(#gg)"/>
<circle cx="517.01" cy="176.73" r="2.75" fill="url(#gg)"/>
<circle cx="519.62" cy="176.80" r="2.75" fill="url(#gg)"/>
<circle cx="522.22" cy="181.62" r="2.75" fill="url(#gg)"/>
<circle cx="524.82" cy="183.96" r="2.75" fill="url(#gg)"/>
<circle cx="527.43" cy="165.09" r="2.75" fill="url(#gg)"/>
<circle cx="530.03" cy="183.94" r="2.75" fill="url(#gg)"/>
<circle cx="532.63" cy="171.26" r="2.75" fill="url(#gg)"/>
<circle cx="535.24" cy="181.92" r="2.75" fill="url(#gg)"/>
<circle cx="537.84" cy="171.04" r="2.75" fill="url(#gg)"/>
<circle cx="540.44" cy="179.38" r="2.75" fill="url(#gg)"/>
<circle cx="543.04" cy="184.47" r="2.75" fill="url(#gg)"/>
<circle cx="545.65" cy="177.75" r="2.75" fill="url(#gg)"/>
<circle cx="548.25" cy="179.46" r="2.75" fill="url(#gg)"/>
<circle cx="550.85" cy="182.49" r="2.75" fill="url(#gg)"/>
<circle cx="553.46" cy="179.21" r="2.75" fill="url(#gg)"/>
<circle cx="556.06" cy="178.06" r="2.75" fill="url(#gg)"/>
<circle cx="558.66" cy="186.17" r="2.75" fill="url(#gg)"/>
<circle cx="561.26" cy="183.74" r="2.75" fill="url(#gg)"/>
<circle cx="563.87" cy="177.03" r="2.75" fill="url(#gg)"/>
<circle cx="566.47" cy="192.23" r="2.75" fill="url(#gg)"/>
<circle cx="569.07" cy="172.77" r="2.75" fill="url(#gg)"/>
<circle cx="571.68" cy="183.07" r="2.75" fill="url(#gg)"/>
<circle cx="574.28" cy="177.17" r="2.75" fill="url(#gg)"/>
<circle cx="576.88" cy="179.16" r="2.75" fill="url(#gg)"/>
<circle cx="579.49" cy="159.80" r="2.75" fill="url(#gg)"/>
<circle cx="582.09" cy="179.61" r="2.75" fill="url(#gg)"/>
<circle cx="584.69" cy="181.69" r="2.75" fill="url(#gg)"/>
<circle cx="587.29" cy="170.86" r="2.75" fill="url(#gg)"/>
<circle cx="589.90" cy="170.95" r="2.75" fill="url(#gg)"/>
<circle cx="592.50" cy="184.00" r="2.75" fill="url(#gg)"/>
<circle cx="595.10" cy="181.00" r="2.75" fill="url(#gg)"/>
<circle cx="597.71" cy="182.00" r="2.75" fill="url(#gg)"/>
<circle cx="600.31" cy="187.00" r="2.75" fill="url(#gg)"/>
<circle cx="602.91" cy="188.00" r="2.75" fill="url(#gg)"/>
<circle cx="605.52" cy="175.00" r="2.75" fill="url(#gg)"/>
<circle cx="608.12" cy="176.00" r="2.75" fill="url(#gg)"/>
<circle cx="610.72" cy="175.00" r="2.75" fill="url(#gg)"/>
<circle cx="613.33" cy="170.00" r="2.75" fill="url(#gg)"/>
<circle cx="615.93" cy="172.00" r="2.75" fill="url(#gg)"/>
<circle cx="618.53" cy="174.00" r="2.75" fill="url(#gg)"/>
<circle cx="621.13" cy="172.00" r="2.75" fill="url(#gg)"/>
<circle cx="623.74" cy="173.00" r="2.75" fill="url(#gg)"/>
<circle cx="626.34" cy="175.00" r="2.75" fill="url(#gg)"/>
<circle cx="628.94" cy="198.00" r="2.75" fill="url(#gg)"/>
<circle cx="631.55" cy="174.00" r="2.75" fill="url(#gg)"/>
<circle cx="634.15" cy="180.00" r="2.75" fill="url(#gg)"/>
<circle cx="636.75" cy="184.40" r="2.75" fill="url(#gg)"/>
<circle cx="639.36" cy="163.00" r="2.75" fill="url(#gg)"/>
<circle cx="641.96" cy="157.00" r="2.75" fill="url(#gg)"/>
<circle cx="644.56" cy="156.50" r="2.75" fill="url(#gg)"/>
<circle cx="647.16" cy="154.50" r="2.75" fill="url(#gg)"/>
<circle cx="649.77" cy="152.00" r="2.75" fill="url(#gg)"/>
<circle cx="652.37" cy="150.00" r="2.75" fill="url(#gg)"/>
<circle cx="654.97" cy="148.00" r="2.75" fill="url(#gg)"/>
<circle cx="657.58" cy="146.00" r="2.75" fill="url(#gg)"/>
<circle cx="660.20" cy="143.00" r="2.75" fill="url(#gg)"/>
<circle cx="663.60" cy="22.90" r="2.75" fill="url(#gg)"/>
<circle cx="666.24" cy="22.90" r="2.75" fill="url(#gg)"/>
<circle cx="668.87" cy="22.90" r="2.75" fill="url(#gg)"/>
<circle cx="671.50" cy="22.90" r="2.75" fill="url(#gg)"/>
<circle cx="674.14" cy="22.90" r="2.75" fill="url(#gg)"/>
<circle cx="676.77" cy="22.90" r="2.75" fill="url(#gg)"/>
<path d="M418.10 194.00 L420.70 202.00 L423.31 203.00 L425.91 194.00 L428.51 187.80 L431.12 168.80 L433.72 169.62 L436.32 174.60 L438.92 171.41 L441.53 171.82 L444.13 169.71 L446.73 170.48 L449.34 171.62 L451.94 176.35 L454.54 167.72 L457.15 169.21 L459.75 173.62 L462.35 176.75 L464.95 174.50 L467.56 168.06 L470.16 166.45 L472.76 173.93 L475.37 171.09 L477.97 170.09 L480.57 175.54 L483.18 175.86 L485.78 173.41 L488.38 173.64 L490.98 174.13 L493.59 177.14 L496.19 174.61 L498.79 174.35 L501.40 174.42 L504.00 168.92 L506.60 176.33 L509.20 175.48 L511.81 174.38 L514.41 167.87 L517.01 171.35 L519.62 175.19 L522.22 168.29 L524.82 172.52 L527.43 175.65 L530.03 169.59 L532.63 177.19 L535.24 174.44 L537.84 172.61 L540.44 173.84 L543.04 174.69 L545.65 173.31 L548.25 175.98 L550.85 171.28 L553.46 171.92 L556.06 175.71 L558.66 173.07 L561.26 170.71 L563.87 175.46 L566.47 176.81 L569.07 171.84 L571.68 169.41 L574.28 172.65 L576.88 172.61 L579.49 172.23 L582.09 176.65 L584.69 170.33 L587.29 176.28 L589.90 169.70 L592.50 158.90 L595.10 176.00 L597.71 177.43 L600.31 176.73 L602.91 175.40 L605.52 174.87 L608.12 174.90 L610.72 176.00 L613.33 174.04 L615.93 175.22 L618.53 175.99 L621.13 174.50 L623.74 176.49 L626.34 175.97 L628.94 170.00 L631.55 166.00 L634.15 159.00 L636.60 152.00 L639.60 22.90 L642.24 22.90 L644.87 22.90 L647.50 22.90 L650.14 22.90 L652.77 22.90 L655.41 22.90 L658.05 22.90 L660.68 22.90 L663.32 22.90 L665.95 22.90 L668.59 22.90 L671.22 22.90 L673.86 22.90 L676.49 22.90" fill="none" stroke="#0f7380" stroke-width="1"/>
<circle cx="418.10" cy="194.00" r="2.75" fill="url(#gt)"/>
<circle cx="420.70" cy="202.00" r="2.75" fill="url(#gt)"/>
<circle cx="423.31" cy="203.00" r="2.75" fill="url(#gt)"/>
<circle cx="425.91" cy="194.00" r="2.75" fill="url(#gt)"/>
<circle cx="428.51" cy="187.80" r="2.75" fill="url(#gt)"/>
<circle cx="431.12" cy="168.80" r="2.75" fill="url(#gt)"/>
<circle cx="433.72" cy="169.62" r="2.75" fill="url(#gt)"/>
<circle cx="436.32" cy="174.60" r="2.75" fill="url(#gt)"/>
<circle cx="438.92" cy="171.41" r="2.75" fill="url(#gt)"/>
<circle cx="441.53" cy="171.82" r="2.75" fill="url(#gt)"/>
<circle cx="444.13" cy="169.71" r="2.75" fill="url(#gt)"/>
<circle cx="446.73" cy="170.48" r="2.75" fill="url(#gt)"/>
<circle cx="449.34" cy="171.62" r="2.75" fill="url(#gt)"/>
<circle cx="451.94" cy="176.35" r="2.75" fill="url(#gt)"/>
<circle cx="454.54" cy="167.72" r="2.75" fill="url(#gt)"/>
<circle cx="457.15" cy="169.21" r="2.75" fill="url(#gt)"/>
<circle cx="459.75" cy="173.62" r="2.75" fill="url(#gt)"/>
<circle cx="462.35" cy="176.75" r="2.75" fill="url(#gt)"/>
<circle cx="464.95" cy="174.50" r="2.75" fill="url(#gt)"/>
<circle cx="467.56" cy="168.06" r="2.75" fill="url(#gt)"/>
<circle cx="470.16" cy="166.45" r="2.75" fill="url(#gt)"/>
<circle cx="472.76" cy="173.93" r="2.75" fill="url(#gt)"/>
<circle cx="475.37" cy="171.09" r="2.75" fill="url(#gt)"/>
<circle cx="477.97" cy="170.09" r="2.75" fill="url(#gt)"/>
<circle cx="480.57" cy="175.54" r="2.75" fill="url(#gt)"/>
<circle cx="483.18" cy="175.86" r="2.75" fill="url(#gt)"/>
<circle cx="485.78" cy="173.41" r="2.75" fill="url(#gt)"/>
<circle cx="488.38" cy="173.64" r="2.75" fill="url(#gt)"/>
<circle cx="490.98" cy="174.13" r="2.75" fill="url(#gt)"/>
<circle cx="493.59" cy="177.14" r="2.75" fill="url(#gt)"/>
<circle cx="496.19" cy="174.61" r="2.75" fill="url(#gt)"/>
<circle cx="498.79" cy="174.35" r="2.75" fill="url(#gt)"/>
<circle cx="501.40" cy="174.42" r="2.75" fill="url(#gt)"/>
<circle cx="504.00" cy="168.92" r="2.75" fill="url(#gt)"/>
<circle cx="506.60" cy="176.33" r="2.75" fill="url(#gt)"/>
<circle cx="509.20" cy="175.48" r="2.75" fill="url(#gt)"/>
<circle cx="511.81" cy="174.38" r="2.75" fill="url(#gt)"/>
<circle cx="514.41" cy="167.87" r="2.75" fill="url(#gt)"/>
<circle cx="517.01" cy="171.35" r="2.75" fill="url(#gt)"/>
<circle cx="519.62" cy="175.19" r="2.75" fill="url(#gt)"/>
<circle cx="522.22" cy="168.29" r="2.75" fill="url(#gt)"/>
<circle cx="524.82" cy="172.52" r="2.75" fill="url(#gt)"/>
<circle cx="527.43" cy="175.65" r="2.75" fill="url(#gt)"/>
<circle cx="530.03" cy="169.59" r="2.75" fill="url(#gt)"/>
<circle cx="532.63" cy="177.19" r="2.75" fill="url(#gt)"/>
<circle cx="535.24" cy="174.44" r="2.75" fill="url(#gt)"/>
<circle cx="537.84" cy="172.61" r="2.75" fill="url(#gt)"/>
<circle cx="540.44" cy="173.84" r="2.75" fill="url(#gt)"/>
<circle cx="543.04" cy="174.69" r="2.75" fill="url(#gt)"/>
<circle cx="545.65" cy="173.31" r="2.75" fill="url(#gt)"/>
<circle cx="548.25" cy="175.98" r="2.75" fill="url(#gt)"/>
<circle cx="550.85" cy="171.28" r="2.75" fill="url(#gt)"/>
<circle cx="553.46" cy="171.92" r="2.75" fill="url(#gt)"/>
<circle cx="556.06" cy="175.71" r="2.75" fill="url(#gt)"/>
<circle cx="558.66" cy="173.07" r="2.75" fill="url(#gt)"/>
<circle cx="561.26" cy="170.71" r="2.75" fill="url(#gt)"/>
<circle cx="563.87" cy="175.46" r="2.75" fill="url(#gt)"/>
<circle cx="566.47" cy="176.81" r="2.75" fill="url(#gt)"/>
<circle cx="569.07" cy="171.84" r="2.75" fill="url(#gt)"/>
<circle cx="571.68" cy="169.41" r="2.75" fill="url(#gt)"/>
<circle cx="574.28" cy="172.65" r="2.75" fill="url(#gt)"/>
<circle cx="576.88" cy="172.61" r="2.75" fill="url(#gt)"/>
<circle cx="579.49" cy="172.23" r="2.75" fill="url(#gt)"/>
<circle cx="582.09" cy="176.65" r="2.75" fill="url(#gt)"/>
<circle cx="584.69" cy="170.33" r="2.75" fill="url(#gt)"/>
<circle cx="587.29" cy="176.28" r="2.75" fill="url(#gt)"/>
<circle cx="589.90" cy="169.70" r="2.75" fill="url(#gt)"/>
<circle cx="592.50" cy="158.90" r="2.75" fill="url(#gt)"/>
<circle cx="595.10" cy="176.00" r="2.75" fill="url(#gt)"/>
<circle cx="597.71" cy="177.43" r="2.75" fill="url(#gt)"/>
<circle cx="600.31" cy="176.73" r="2.75" fill="url(#gt)"/>
<circle cx="602.91" cy="175.40" r="2.75" fill="url(#gt)"/>
<circle cx="605.52" cy="174.87" r="2.75" fill="url(#gt)"/>
<circle cx="608.12" cy="174.90" r="2.75" fill="url(#gt)"/>
<circle cx="610.72" cy="176.00" r="2.75" fill="url(#gt)"/>
<circle cx="613.33" cy="174.04" r="2.75" fill="url(#gt)"/>
<circle cx="615.93" cy="175.22" r="2.75" fill="url(#gt)"/>
<circle cx="618.53" cy="175.99" r="2.75" fill="url(#gt)"/>
<circle cx="621.13" cy="174.50" r="2.75" fill="url(#gt)"/>
<circle cx="623.74" cy="176.49" r="2.75" fill="url(#gt)"/>
<circle cx="626.34" cy="175.97" r="2.75" fill="url(#gt)"/>
<circle cx="628.94" cy="170.00" r="2.75" fill="url(#gt)"/>
<circle cx="631.55" cy="166.00" r="2.75" fill="url(#gt)"/>
<circle cx="634.15" cy="159.00" r="2.75" fill="url(#gt)"/>
<circle cx="636.60" cy="152.00" r="2.75" fill="url(#gt)"/>
<circle cx="639.60" cy="22.90" r="2.75" fill="url(#gt)"/>
<circle cx="642.24" cy="22.90" r="2.75" fill="url(#gt)"/>
<circle cx="644.87" cy="22.90" r="2.75" fill="url(#gt)"/>
<circle cx="647.50" cy="22.90" r="2.75" fill="url(#gt)"/>
<circle cx="650.14" cy="22.90" r="2.75" fill="url(#gt)"/>
<circle cx="652.77" cy="22.90" r="2.75" fill="url(#gt)"/>
<circle cx="655.41" cy="22.90" r="2.75" fill="url(#gt)"/>
<circle cx="658.05" cy="22.90" r="2.75" fill="url(#gt)"/>
<circle cx="660.68" cy="22.90" r="2.75" fill="url(#gt)"/>
<circle cx="663.32" cy="22.90" r="2.75" fill="url(#gt)"/>
<circle cx="665.95" cy="22.90" r="2.75" fill="url(#gt)"/>
<circle cx="668.59" cy="22.90" r="2.75" fill="url(#gt)"/>
<circle cx="671.22" cy="22.90" r="2.75" fill="url(#gt)"/>
<circle cx="673.86" cy="22.90" r="2.75" fill="url(#gt)"/>
<circle cx="676.49" cy="22.90" r="2.75" fill="url(#gt)"/>
<path d="M418.10 158.90 L420.70 172.40 L423.31 159.80 L425.91 166.00 L428.51 146.20 L431.12 140.80 L433.72 154.40 L436.32 142.60 L438.92 158.90 L441.53 139.50 L444.13 149.80 L446.73 147.10 L449.34 153.50 L451.94 144.68 L454.54 147.14 L457.15 144.78 L459.75 144.49 L462.35 142.52 L464.95 144.82 L467.56 149.06 L470.16 146.86 L472.76 148.82 L475.37 155.50 L477.97 146.76 L480.57 146.09 L483.18 140.17 L485.78 155.00 L488.38 147.12 L490.98 147.10 L493.59 140.09 L496.19 139.92 L498.79 142.65 L501.40 144.00 L504.00 146.48 L506.60 145.35 L509.20 147.17 L511.81 143.44 L514.41 146.49 L517.01 146.76 L519.62 143.38 L522.22 151.00 L524.82 147.28 L527.43 155.50 L530.03 143.51 L532.63 143.13 L535.24 144.40 L537.84 145.16 L540.44 147.52 L543.04 146.29 L545.65 144.07 L548.25 142.44 L550.85 143.83 L553.46 149.41 L556.06 152.00 L558.66 146.28 L561.26 146.86 L563.87 140.73 L566.47 145.66 L569.07 139.00 L571.68 139.05 L574.28 144.47 L576.88 145.16 L579.49 142.88 L582.09 147.09 L584.69 145.30 L587.29 140.81 L589.90 148.15 L592.50 131.80 L595.10 148.53 L597.71 158.00 L600.31 146.00 L607.00 135.40 L609.50 22.90 L612.13 22.90 L614.77 22.90 L617.40 22.90 L620.04 22.90 L622.67 22.90 L625.31 22.90 L627.95 22.90 L630.58 22.90 L633.22 22.90 L635.85 22.90 L638.49 22.90 L641.12 22.90 L643.75 22.90 L646.39 22.90 L649.02 22.90 L651.66 22.90 L654.29 22.90 L656.93 22.90 L659.57 22.90 L662.20 22.90 L664.84 22.90 L667.47 22.90 L670.11 22.90 L672.74 22.90 L675.38 22.90 L678.01 22.90" fill="none" stroke="#4f4a88" stroke-width="1"/>
<circle cx="418.10" cy="158.90" r="2.75" fill="url(#gp)"/>
<circle cx="420.70" cy="172.40" r="2.75" fill="url(#gp)"/>
<circle cx="423.31" cy="159.80" r="2.75" fill="url(#gp)"/>
<circle cx="425.91" cy="166.00" r="2.75" fill="url(#gp)"/>
<circle cx="428.51" cy="146.20" r="2.75" fill="url(#gp)"/>
<circle cx="431.12" cy="140.80" r="2.75" fill="url(#gp)"/>
<circle cx="433.72" cy="154.40" r="2.75" fill="url(#gp)"/>
<circle cx="436.32" cy="142.60" r="2.75" fill="url(#gp)"/>
<circle cx="438.92" cy="158.90" r="2.75" fill="url(#gp)"/>
<circle cx="441.53" cy="139.50" r="2.75" fill="url(#gp)"/>
<circle cx="444.13" cy="149.80" r="2.75" fill="url(#gp)"/>
<circle cx="446.73" cy="147.10" r="2.75" fill="url(#gp)"/>
<circle cx="449.34" cy="153.50" r="2.75" fill="url(#gp)"/>
<circle cx="451.94" cy="144.68" r="2.75" fill="url(#gp)"/>
<circle cx="454.54" cy="147.14" r="2.75" fill="url(#gp)"/>
<circle cx="457.15" cy="144.78" r="2.75" fill="url(#gp)"/>
<circle cx="459.75" cy="144.49" r="2.75" fill="url(#gp)"/>
<circle cx="462.35" cy="142.52" r="2.75" fill="url(#gp)"/>
<circle cx="464.95" cy="144.82" r="2.75" fill="url(#gp)"/>
<circle cx="467.56" cy="149.06" r="2.75" fill="url(#gp)"/>
<circle cx="470.16" cy="146.86" r="2.75" fill="url(#gp)"/>
<circle cx="472.76" cy="148.82" r="2.75" fill="url(#gp)"/>
<circle cx="475.37" cy="155.50" r="2.75" fill="url(#gp)"/>
<circle cx="477.97" cy="146.76" r="2.75" fill="url(#gp)"/>
<circle cx="480.57" cy="146.09" r="2.75" fill="url(#gp)"/>
<circle cx="483.18" cy="140.17" r="2.75" fill="url(#gp)"/>
<circle cx="485.78" cy="155.00" r="2.75" fill="url(#gp)"/>
<circle cx="488.38" cy="147.12" r="2.75" fill="url(#gp)"/>
<circle cx="490.98" cy="147.10" r="2.75" fill="url(#gp)"/>
<circle cx="493.59" cy="140.09" r="2.75" fill="url(#gp)"/>
<circle cx="496.19" cy="139.92" r="2.75" fill="url(#gp)"/>
<circle cx="498.79" cy="142.65" r="2.75" fill="url(#gp)"/>
<circle cx="501.40" cy="144.00" r="2.75" fill="url(#gp)"/>
<circle cx="504.00" cy="146.48" r="2.75" fill="url(#gp)"/>
<circle cx="506.60" cy="145.35" r="2.75" fill="url(#gp)"/>
<circle cx="509.20" cy="147.17" r="2.75" fill="url(#gp)"/>
<circle cx="511.81" cy="143.44" r="2.75" fill="url(#gp)"/>
<circle cx="514.41" cy="146.49" r="2.75" fill="url(#gp)"/>
<circle cx="517.01" cy="146.76" r="2.75" fill="url(#gp)"/>
<circle cx="519.62" cy="143.38" r="2.75" fill="url(#gp)"/>
<circle cx="522.22" cy="151.00" r="2.75" fill="url(#gp)"/>
<circle cx="524.82" cy="147.28" r="2.75" fill="url(#gp)"/>
<circle cx="527.43" cy="155.50" r="2.75" fill="url(#gp)"/>
<circle cx="530.03" cy="143.51" r="2.75" fill="url(#gp)"/>
<circle cx="532.63" cy="143.13" r="2.75" fill="url(#gp)"/>
<circle cx="535.24" cy="144.40" r="2.75" fill="url(#gp)"/>
<circle cx="537.84" cy="145.16" r="2.75" fill="url(#gp)"/>
<circle cx="540.44" cy="147.52" r="2.75" fill="url(#gp)"/>
<circle cx="543.04" cy="146.29" r="2.75" fill="url(#gp)"/>
<circle cx="545.65" cy="144.07" r="2.75" fill="url(#gp)"/>
<circle cx="548.25" cy="142.44" r="2.75" fill="url(#gp)"/>
<circle cx="550.85" cy="143.83" r="2.75" fill="url(#gp)"/>
<circle cx="553.46" cy="149.41" r="2.75" fill="url(#gp)"/>
<circle cx="556.06" cy="152.00" r="2.75" fill="url(#gp)"/>
<circle cx="558.66" cy="146.28" r="2.75" fill="url(#gp)"/>
<circle cx="561.26" cy="146.86" r="2.75" fill="url(#gp)"/>
<circle cx="563.87" cy="140.73" r="2.75" fill="url(#gp)"/>
<circle cx="566.47" cy="145.66" r="2.75" fill="url(#gp)"/>
<circle cx="569.07" cy="139.00" r="2.75" fill="url(#gp)"/>
<circle cx="571.68" cy="139.05" r="2.75" fill="url(#gp)"/>
<circle cx="574.28" cy="144.47" r="2.75" fill="url(#gp)"/>
<circle cx="576.88" cy="145.16" r="2.75" fill="url(#gp)"/>
<circle cx="579.49" cy="142.88" r="2.75" fill="url(#gp)"/>
<circle cx="582.09" cy="147.09" r="2.75" fill="url(#gp)"/>
<circle cx="584.69" cy="145.30" r="2.75" fill="url(#gp)"/>
<circle cx="587.29" cy="140.81" r="2.75" fill="url(#gp)"/>
<circle cx="589.90" cy="148.15" r="2.75" fill="url(#gp)"/>
<circle cx="592.50" cy="131.80" r="2.75" fill="url(#gp)"/>
<circle cx="595.10" cy="148.53" r="2.75" fill="url(#gp)"/>
<circle cx="597.71" cy="158.00" r="2.75" fill="url(#gp)"/>
<circle cx="600.31" cy="146.00" r="2.75" fill="url(#gp)"/>
<circle cx="607.00" cy="135.40" r="2.75" fill="url(#gp)"/>
<circle cx="609.50" cy="22.90" r="2.75" fill="url(#gp)"/>
<circle cx="612.13" cy="22.90" r="2.75" fill="url(#gp)"/>
<circle cx="614.77" cy="22.90" r="2.75" fill="url(#gp)"/>
<circle cx="617.40" cy="22.90" r="2.75" fill="url(#gp)"/>
<circle cx="620.04" cy="22.90" r="2.75" fill="url(#gp)"/>
<circle cx="622.67" cy="22.90" r="2.75" fill="url(#gp)"/>
<circle cx="625.31" cy="22.90" r="2.75" fill="url(#gp)"/>
<circle cx="627.95" cy="22.90" r="2.75" fill="url(#gp)"/>
<circle cx="630.58" cy="22.90" r="2.75" fill="url(#gp)"/>
<circle cx="633.22" cy="22.90" r="2.75" fill="url(#gp)"/>
<circle cx="635.85" cy="22.90" r="2.75" fill="url(#gp)"/>
<circle cx="638.49" cy="22.90" r="2.75" fill="url(#gp)"/>
<circle cx="641.12" cy="22.90" r="2.75" fill="url(#gp)"/>
<circle cx="643.75" cy="22.90" r="2.75" fill="url(#gp)"/>
<circle cx="646.39" cy="22.90" r="2.75" fill="url(#gp)"/>
<circle cx="649.02" cy="22.90" r="2.75" fill="url(#gp)"/>
<circle cx="651.66" cy="22.90" r="2.75" fill="url(#gp)"/>
<circle cx="654.29" cy="22.90" r="2.75" fill="url(#gp)"/>
<circle cx="656.93" cy="22.90" r="2.75" fill="url(#gp)"/>
<circle cx="659.57" cy="22.90" r="2.75" fill="url(#gp)"/>
<circle cx="662.20" cy="22.90" r="2.75" fill="url(#gp)"/>
<circle cx="664.84" cy="22.90" r="2.75" fill="url(#gp)"/>
<circle cx="667.47" cy="22.90" r="2.75" fill="url(#gp)"/>
<circle cx="670.11" cy="22.90" r="2.75" fill="url(#gp)"/>
<circle cx="672.74" cy="22.90" r="2.75" fill="url(#gp)"/>
<circle cx="675.38" cy="22.90" r="2.75" fill="url(#gp)"/>
<circle cx="678.01" cy="22.90" r="2.75" fill="url(#gp)"/>
<rect x="418.1" y="21.3" width="260.29999999999995" height="193.5" fill="none" stroke="#1e1e1e" stroke-width="1.2"/>
<line x1="413.70" y1="214.80" x2="418.10" y2="214.80" stroke="#1e1e1e" stroke-width="1.2"/>
<line x1="415.80" y1="208.98" x2="418.10" y2="208.98" stroke="#1e1e1e" stroke-width="1"/>
<line x1="415.80" y1="205.57" x2="418.10" y2="205.57" stroke="#1e1e1e" stroke-width="1"/>
<line x1="415.80" y1="203.15" x2="418.10" y2="203.15" stroke="#1e1e1e" stroke-width="1"/>
<line x1="415.80" y1="201.27" x2="418.10" y2="201.27" stroke="#1e1e1e" stroke-width="1"/>
<line x1="415.80" y1="199.74" x2="418.10" y2="199.74" stroke="#1e1e1e" stroke-width="1"/>
<line x1="415.80" y1="198.45" x2="418.10" y2="198.45" stroke="#1e1e1e" stroke-width="1"/>
<line x1="415.80" y1="197.33" x2="418.10" y2="197.33" stroke="#1e1e1e" stroke-width="1"/>
<line x1="415.80" y1="196.34" x2="418.10" y2="196.34" stroke="#1e1e1e" stroke-width="1"/>
<text x="411.50" y="219.30" font-size="10.3" font-weight="bold" fill="#1a1a1a" text-anchor="end">10<tspan font-size="6.3" font-weight="normal" stroke="#1a1a1a" stroke-width="0.2" dx="-0.6" dy="-6.0">-12</tspan></text>
<line x1="413.70" y1="195.45" x2="418.10" y2="195.45" stroke="#1e1e1e" stroke-width="1.2"/>
<line x1="415.80" y1="189.63" x2="418.10" y2="189.63" stroke="#1e1e1e" stroke-width="1"/>
<line x1="415.80" y1="186.22" x2="418.10" y2="186.22" stroke="#1e1e1e" stroke-width="1"/>
<line x1="415.80" y1="183.80" x2="418.10" y2="183.80" stroke="#1e1e1e" stroke-width="1"/>
<line x1="415.80" y1="181.92" x2="418.10" y2="181.92" stroke="#1e1e1e" stroke-width="1"/>
<line x1="415.80" y1="180.39" x2="418.10" y2="180.39" stroke="#1e1e1e" stroke-width="1"/>
<line x1="415.80" y1="179.10" x2="418.10" y2="179.10" stroke="#1e1e1e" stroke-width="1"/>
<line x1="415.80" y1="177.98" x2="418.10" y2="177.98" stroke="#1e1e1e" stroke-width="1"/>
<line x1="415.80" y1="176.99" x2="418.10" y2="176.99" stroke="#1e1e1e" stroke-width="1"/>
<text x="411.50" y="199.95" font-size="10.3" font-weight="bold" fill="#1a1a1a" text-anchor="end">10<tspan font-size="6.3" font-weight="normal" stroke="#1a1a1a" stroke-width="0.2" dx="-0.6" dy="-6.0">-11</tspan></text>
<line x1="413.70" y1="176.10" x2="418.10" y2="176.10" stroke="#1e1e1e" stroke-width="1.2"/>
<line x1="415.80" y1="170.28" x2="418.10" y2="170.28" stroke="#1e1e1e" stroke-width="1"/>
<line x1="415.80" y1="166.87" x2="418.10" y2="166.87" stroke="#1e1e1e" stroke-width="1"/>
<line x1="415.80" y1="164.45" x2="418.10" y2="164.45" stroke="#1e1e1e" stroke-width="1"/>
<line x1="415.80" y1="162.57" x2="418.10" y2="162.57" stroke="#1e1e1e" stroke-width="1"/>
<line x1="415.80" y1="161.04" x2="418.10" y2="161.04" stroke="#1e1e1e" stroke-width="1"/>
<line x1="415.80" y1="159.75" x2="418.10" y2="159.75" stroke="#1e1e1e" stroke-width="1"/>
<line x1="415.80" y1="158.63" x2="418.10" y2="158.63" stroke="#1e1e1e" stroke-width="1"/>
<line x1="415.80" y1="157.64" x2="418.10" y2="157.64" stroke="#1e1e1e" stroke-width="1"/>
<text x="411.50" y="180.60" font-size="10.3" font-weight="bold" fill="#1a1a1a" text-anchor="end">10<tspan font-size="6.3" font-weight="normal" stroke="#1a1a1a" stroke-width="0.2" dx="-0.6" dy="-6.0">-10</tspan></text>
<line x1="413.70" y1="156.75" x2="418.10" y2="156.75" stroke="#1e1e1e" stroke-width="1.2"/>
<line x1="415.80" y1="150.93" x2="418.10" y2="150.93" stroke="#1e1e1e" stroke-width="1"/>
<line x1="415.80" y1="147.52" x2="418.10" y2="147.52" stroke="#1e1e1e" stroke-width="1"/>
<line x1="415.80" y1="145.10" x2="418.10" y2="145.10" stroke="#1e1e1e" stroke-width="1"/>
<line x1="415.80" y1="143.22" x2="418.10" y2="143.22" stroke="#1e1e1e" stroke-width="1"/>
<line x1="415.80" y1="141.69" x2="418.10" y2="141.69" stroke="#1e1e1e" stroke-width="1"/>
<line x1="415.80" y1="140.40" x2="418.10" y2="140.40" stroke="#1e1e1e" stroke-width="1"/>
<line x1="415.80" y1="139.28" x2="418.10" y2="139.28" stroke="#1e1e1e" stroke-width="1"/>
<line x1="415.80" y1="138.29" x2="418.10" y2="138.29" stroke="#1e1e1e" stroke-width="1"/>
<text x="411.50" y="161.25" font-size="10.3" font-weight="bold" fill="#1a1a1a" text-anchor="end">10<tspan font-size="6.3" font-weight="normal" stroke="#1a1a1a" stroke-width="0.2" dx="-0.6" dy="-6.0">-9</tspan></text>
<line x1="413.70" y1="137.40" x2="418.10" y2="137.40" stroke="#1e1e1e" stroke-width="1.2"/>
<line x1="415.80" y1="131.58" x2="418.10" y2="131.58" stroke="#1e1e1e" stroke-width="1"/>
<line x1="415.80" y1="128.17" x2="418.10" y2="128.17" stroke="#1e1e1e" stroke-width="1"/>
<line x1="415.80" y1="125.75" x2="418.10" y2="125.75" stroke="#1e1e1e" stroke-width="1"/>
<line x1="415.80" y1="123.87" x2="418.10" y2="123.87" stroke="#1e1e1e" stroke-width="1"/>
<line x1="415.80" y1="122.34" x2="418.10" y2="122.34" stroke="#1e1e1e" stroke-width="1"/>
<line x1="415.80" y1="121.05" x2="418.10" y2="121.05" stroke="#1e1e1e" stroke-width="1"/>
<line x1="415.80" y1="119.93" x2="418.10" y2="119.93" stroke="#1e1e1e" stroke-width="1"/>
<line x1="415.80" y1="118.94" x2="418.10" y2="118.94" stroke="#1e1e1e" stroke-width="1"/>
<text x="411.50" y="141.90" font-size="10.3" font-weight="bold" fill="#1a1a1a" text-anchor="end">10<tspan font-size="6.3" font-weight="normal" stroke="#1a1a1a" stroke-width="0.2" dx="-0.6" dy="-6.0">-8</tspan></text>
<line x1="413.70" y1="118.05" x2="418.10" y2="118.05" stroke="#1e1e1e" stroke-width="1.2"/>
<line x1="415.80" y1="112.23" x2="418.10" y2="112.23" stroke="#1e1e1e" stroke-width="1"/>
<line x1="415.80" y1="108.82" x2="418.10" y2="108.82" stroke="#1e1e1e" stroke-width="1"/>
<line x1="415.80" y1="106.40" x2="418.10" y2="106.40" stroke="#1e1e1e" stroke-width="1"/>
<line x1="415.80" y1="104.52" x2="418.10" y2="104.52" stroke="#1e1e1e" stroke-width="1"/>
<line x1="415.80" y1="102.99" x2="418.10" y2="102.99" stroke="#1e1e1e" stroke-width="1"/>
<line x1="415.80" y1="101.70" x2="418.10" y2="101.70" stroke="#1e1e1e" stroke-width="1"/>
<line x1="415.80" y1="100.58" x2="418.10" y2="100.58" stroke="#1e1e1e" stroke-width="1"/>
<line x1="415.80" y1="99.59" x2="418.10" y2="99.59" stroke="#1e1e1e" stroke-width="1"/>
<text x="411.50" y="122.55" font-size="10.3" font-weight="bold" fill="#1a1a1a" text-anchor="end">10<tspan font-size="6.3" font-weight="normal" stroke="#1a1a1a" stroke-width="0.2" dx="-0.6" dy="-6.0">-7</tspan></text>
<line x1="413.70" y1="98.70" x2="418.10" y2="98.70" stroke="#1e1e1e" stroke-width="1.2"/>
<line x1="415.80" y1="92.88" x2="418.10" y2="92.88" stroke="#1e1e1e" stroke-width="1"/>
<line x1="415.80" y1="89.47" x2="418.10" y2="89.47" stroke="#1e1e1e" stroke-width="1"/>
<line x1="415.80" y1="87.05" x2="418.10" y2="87.05" stroke="#1e1e1e" stroke-width="1"/>
<line x1="415.80" y1="85.17" x2="418.10" y2="85.17" stroke="#1e1e1e" stroke-width="1"/>
<line x1="415.80" y1="83.64" x2="418.10" y2="83.64" stroke="#1e1e1e" stroke-width="1"/>
<line x1="415.80" y1="82.35" x2="418.10" y2="82.35" stroke="#1e1e1e" stroke-width="1"/>
<line x1="415.80" y1="81.23" x2="418.10" y2="81.23" stroke="#1e1e1e" stroke-width="1"/>
<line x1="415.80" y1="80.24" x2="418.10" y2="80.24" stroke="#1e1e1e" stroke-width="1"/>
<text x="411.50" y="103.20" font-size="10.3" font-weight="bold" fill="#1a1a1a" text-anchor="end">10<tspan font-size="6.3" font-weight="normal" stroke="#1a1a1a" stroke-width="0.2" dx="-0.6" dy="-6.0">-6</tspan></text>
<line x1="413.70" y1="79.35" x2="418.10" y2="79.35" stroke="#1e1e1e" stroke-width="1.2"/>
<line x1="415.80" y1="73.53" x2="418.10" y2="73.53" stroke="#1e1e1e" stroke-width="1"/>
<line x1="415.80" y1="70.12" x2="418.10" y2="70.12" stroke="#1e1e1e" stroke-width="1"/>
<line x1="415.80" y1="67.70" x2="418.10" y2="67.70" stroke="#1e1e1e" stroke-width="1"/>
<line x1="415.80" y1="65.82" x2="418.10" y2="65.82" stroke="#1e1e1e" stroke-width="1"/>
<line x1="415.80" y1="64.29" x2="418.10" y2="64.29" stroke="#1e1e1e" stroke-width="1"/>
<line x1="415.80" y1="63.00" x2="418.10" y2="63.00" stroke="#1e1e1e" stroke-width="1"/>
<line x1="415.80" y1="61.88" x2="418.10" y2="61.88" stroke="#1e1e1e" stroke-width="1"/>
<line x1="415.80" y1="60.89" x2="418.10" y2="60.89" stroke="#1e1e1e" stroke-width="1"/>
<text x="411.50" y="83.85" font-size="10.3" font-weight="bold" fill="#1a1a1a" text-anchor="end">10<tspan font-size="6.3" font-weight="normal" stroke="#1a1a1a" stroke-width="0.2" dx="-0.6" dy="-6.0">-5</tspan></text>
<line x1="413.70" y1="60.00" x2="418.10" y2="60.00" stroke="#1e1e1e" stroke-width="1.2"/>
<line x1="415.80" y1="54.18" x2="418.10" y2="54.18" stroke="#1e1e1e" stroke-width="1"/>
<line x1="415.80" y1="50.77" x2="418.10" y2="50.77" stroke="#1e1e1e" stroke-width="1"/>
<line x1="415.80" y1="48.35" x2="418.10" y2="48.35" stroke="#1e1e1e" stroke-width="1"/>
<line x1="415.80" y1="46.47" x2="418.10" y2="46.47" stroke="#1e1e1e" stroke-width="1"/>
<line x1="415.80" y1="44.94" x2="418.10" y2="44.94" stroke="#1e1e1e" stroke-width="1"/>
<line x1="415.80" y1="43.65" x2="418.10" y2="43.65" stroke="#1e1e1e" stroke-width="1"/>
<line x1="415.80" y1="42.53" x2="418.10" y2="42.53" stroke="#1e1e1e" stroke-width="1"/>
<line x1="415.80" y1="41.54" x2="418.10" y2="41.54" stroke="#1e1e1e" stroke-width="1"/>
<text x="411.50" y="64.50" font-size="10.3" font-weight="bold" fill="#1a1a1a" text-anchor="end">10<tspan font-size="6.3" font-weight="normal" stroke="#1a1a1a" stroke-width="0.2" dx="-0.6" dy="-6.0">-4</tspan></text>
<line x1="413.70" y1="40.65" x2="418.10" y2="40.65" stroke="#1e1e1e" stroke-width="1.2"/>
<line x1="415.80" y1="34.83" x2="418.10" y2="34.83" stroke="#1e1e1e" stroke-width="1"/>
<line x1="415.80" y1="31.42" x2="418.10" y2="31.42" stroke="#1e1e1e" stroke-width="1"/>
<line x1="415.80" y1="29.00" x2="418.10" y2="29.00" stroke="#1e1e1e" stroke-width="1"/>
<line x1="415.80" y1="27.12" x2="418.10" y2="27.12" stroke="#1e1e1e" stroke-width="1"/>
<line x1="415.80" y1="25.59" x2="418.10" y2="25.59" stroke="#1e1e1e" stroke-width="1"/>
<line x1="415.80" y1="24.30" x2="418.10" y2="24.30" stroke="#1e1e1e" stroke-width="1"/>
<line x1="415.80" y1="23.18" x2="418.10" y2="23.18" stroke="#1e1e1e" stroke-width="1"/>
<line x1="415.80" y1="22.19" x2="418.10" y2="22.19" stroke="#1e1e1e" stroke-width="1"/>
<text x="411.50" y="45.15" font-size="10.3" font-weight="bold" fill="#1a1a1a" text-anchor="end">10<tspan font-size="6.3" font-weight="normal" stroke="#1a1a1a" stroke-width="0.2" dx="-0.6" dy="-6.0">-3</tspan></text>
<line x1="413.70" y1="21.30" x2="418.10" y2="21.30" stroke="#1e1e1e" stroke-width="1.2"/>
<text x="411.50" y="25.80" font-size="10.3" font-weight="bold" fill="#1a1a1a" text-anchor="end">10<tspan font-size="6.3" font-weight="normal" stroke="#1a1a1a" stroke-width="0.2" dx="-0.6" dy="-6.0">-2</tspan></text>
<line x1="418.10" y1="214.80" x2="418.10" y2="218.40" stroke="#1e1e1e" stroke-width="1"/>
<text x="418.10" y="232.00" font-size="12" font-weight="bold" fill="#1a1a1a" text-anchor="middle">0</text>
<line x1="470.16" y1="214.80" x2="470.16" y2="218.40" stroke="#1e1e1e" stroke-width="1"/>
<text x="470.16" y="232.00" font-size="12" font-weight="bold" fill="#1a1a1a" text-anchor="middle">10</text>
<line x1="522.22" y1="214.80" x2="522.22" y2="218.40" stroke="#1e1e1e" stroke-width="1"/>
<text x="522.22" y="232.00" font-size="12" font-weight="bold" fill="#1a1a1a" text-anchor="middle">20</text>
<line x1="574.28" y1="214.80" x2="574.28" y2="218.40" stroke="#1e1e1e" stroke-width="1"/>
<text x="574.28" y="232.00" font-size="12" font-weight="bold" fill="#1a1a1a" text-anchor="middle">30</text>
<line x1="626.34" y1="214.80" x2="626.34" y2="218.40" stroke="#1e1e1e" stroke-width="1"/>
<text x="626.34" y="232.00" font-size="12" font-weight="bold" fill="#1a1a1a" text-anchor="middle">40</text>
<line x1="678.40" y1="214.80" x2="678.40" y2="218.40" stroke="#1e1e1e" stroke-width="1"/>
<text x="678.40" y="232.00" font-size="12" font-weight="bold" fill="#1a1a1a" text-anchor="middle">50</text>
<line x1="444.13" y1="214.80" x2="444.13" y2="217.00" stroke="#1e1e1e" stroke-width="0.9"/>
<line x1="496.19" y1="214.80" x2="496.19" y2="217.00" stroke="#1e1e1e" stroke-width="0.9"/>
<line x1="548.25" y1="214.80" x2="548.25" y2="217.00" stroke="#1e1e1e" stroke-width="0.9"/>
<line x1="600.31" y1="214.80" x2="600.31" y2="217.00" stroke="#1e1e1e" stroke-width="0.9"/>
<line x1="652.37" y1="214.80" x2="652.37" y2="217.00" stroke="#1e1e1e" stroke-width="0.9"/>
<line x1="425.8" y1="33.3" x2="448.4" y2="33.3" stroke="#4f4a88" stroke-width="1.1"/>
<circle cx="437.5" cy="33.3" r="3.3" fill="url(#gp)"/>
<text x="451.3" y="33.599999999999994" font-size="10" font-weight="bold" fill="#1a1a1a" dominant-baseline="central">Hyb_0</text>
<line x1="425.8" y1="46.5" x2="448.4" y2="46.5" stroke="#1f8a96" stroke-width="1.1"/>
<circle cx="437.5" cy="46.5" r="3.3" fill="url(#gt)"/>
<text x="451.3" y="46.8" font-size="10" font-weight="bold" fill="#1a1a1a" dominant-baseline="central">Hyb_1</text>
<line x1="425.8" y1="59.6" x2="448.4" y2="59.6" stroke="#a88f3c" stroke-width="1.1"/>
<circle cx="437.5" cy="59.6" r="3.3" fill="url(#gg)"/>
<text x="451.3" y="59.9" font-size="10" font-weight="bold" fill="#1a1a1a" dominant-baseline="central">Hyb_2</text>
<text x="546.1" y="247.9" font-size="14.6" font-weight="bold" fill="#1a1a1a" text-anchor="middle">Breakdown voltage (V)</text>
<g transform="rotate(-90)" fill="#1a1a1a"><text x="-167.6" y="385.3" font-size="14" font-weight="bold">Current</text><path d="M-107.1 374.7 Q-114.1 381.3 -107.1 387.9" fill="none" stroke="#1a1a1a" stroke-width="1.35"/><text x="-106.2" y="385.3" font-size="14" font-weight="bold">A</text><path d="M-95.4 374.6 Q-88.6 381.4 -95.4 388.1" fill="none" stroke="#1a1a1a" stroke-width="1.35"/></g>
<path d="M73.80 458.20 L111.00 384.60 L148.20 373.10 L185.40 366.00 L222.60 365.50 L259.80 356.20 L297.00 344.40" fill="none" stroke="#2f2b62" stroke-width="1.2"/>
<path d="M73.80 453.00 V464.20 M70.90 453.00 H76.70 M70.90 464.20 H76.70" stroke="#2f2b62" stroke-width="1.25" fill="none"/>
<path d="M111.00 373.50 V395.80 M108.10 373.50 H113.90 M108.10 395.80 H113.90" stroke="#2f2b62" stroke-width="1.25" fill="none"/>
<path d="M148.20 364.60 V381.30 M145.30 364.60 H151.10 M145.30 381.30 H151.10" stroke="#2f2b62" stroke-width="1.25" fill="none"/>
<path d="M185.40 358.30 V374.20 M182.50 358.30 H188.30 M182.50 374.20 H188.30" stroke="#2f2b62" stroke-width="1.25" fill="none"/>
<path d="M222.60 355.50 V376.60 M219.70 355.50 H225.50 M219.70 376.60 H225.50" stroke="#2f2b62" stroke-width="1.25" fill="none"/>
<path d="M259.80 351.00 V361.50 M256.90 351.00 H262.70 M256.90 361.50 H262.70" stroke="#2f2b62" stroke-width="1.25" fill="none"/>
<path d="M297.00 330.30 V358.10 M294.10 330.30 H299.90 M294.10 358.10 H299.90" stroke="#2f2b62" stroke-width="1.25" fill="none"/>
<circle cx="73.80" cy="458.20" r="4.1" fill="url(#gp)"/>
<circle cx="111.00" cy="384.60" r="4.1" fill="url(#gp)"/>
<circle cx="148.20" cy="373.10" r="4.1" fill="url(#gp)"/>
<circle cx="185.40" cy="366.00" r="4.1" fill="url(#gp)"/>
<circle cx="222.60" cy="365.50" r="4.1" fill="url(#gp)"/>
<circle cx="259.80" cy="356.20" r="4.1" fill="url(#gp)"/>
<circle cx="297.00" cy="344.40" r="4.1" fill="url(#gp)"/>
<path d="M73.80 317.70 L111.00 331.80 L148.20 338.90 L185.40 348.20 L222.60 352.50 L259.80 357.40 L297.00 390.00" fill="none" stroke="#0f7380" stroke-width="1.2"/>
<path d="M73.80 314.00 V321.40 M70.90 314.00 H76.70 M70.90 321.40 H76.70" stroke="#0f7380" stroke-width="1.25" fill="none"/>
<path d="M111.00 323.70 V340.00 M108.10 323.70 H113.90 M108.10 340.00 H113.90" stroke="#0f7380" stroke-width="1.25" fill="none"/>
<path d="M148.20 328.50 V350.40 M145.30 328.50 H151.10 M145.30 350.40 H151.10" stroke="#0f7380" stroke-width="1.25" fill="none"/>
<path d="M185.40 340.80 V355.60 M182.50 340.80 H188.30 M182.50 355.60 H188.30" stroke="#0f7380" stroke-width="1.25" fill="none"/>
<path d="M222.60 344.40 V361.00 M219.70 344.40 H225.50 M219.70 361.00 H225.50" stroke="#0f7380" stroke-width="1.25" fill="none"/>
<path d="M259.80 343.60 V372.20 M256.90 343.60 H262.70 M256.90 372.20 H262.70" stroke="#0f7380" stroke-width="1.25" fill="none"/>
<path d="M297.00 382.20 V397.40 M294.10 382.20 H299.90 M294.10 397.40 H299.90" stroke="#0f7380" stroke-width="1.25" fill="none"/>
<circle cx="73.80" cy="317.70" r="4.1" fill="url(#gt)"/>
<circle cx="111.00" cy="331.80" r="4.1" fill="url(#gt)"/>
<circle cx="148.20" cy="338.90" r="4.1" fill="url(#gt)"/>
<circle cx="185.40" cy="348.20" r="4.1" fill="url(#gt)"/>
<circle cx="222.60" cy="352.50" r="4.1" fill="url(#gt)"/>
<circle cx="259.80" cy="357.40" r="4.1" fill="url(#gt)"/>
<circle cx="297.00" cy="390.00" r="4.1" fill="url(#gt)"/>
<line x1="55.2" y1="284.6" x2="315.6" y2="284.6" stroke="#555" stroke-width="1.2"/>
<line x1="54.6" y1="478.2" x2="316.20000000000005" y2="478.2" stroke="#333" stroke-width="1.2"/>
<line x1="55.2" y1="284.0" x2="55.2" y2="478.8" stroke="#3a3670" stroke-width="1.2"/>
<line x1="315.6" y1="284.0" x2="315.6" y2="478.8" stroke="#0f7380" stroke-width="1.2"/>
<line x1="51.20" y1="478.20" x2="55.20" y2="478.20" stroke="#3a3670" stroke-width="1"/>
<text x="49" y="478.70" font-size="12" font-weight="bold" fill="#2f2b62" text-anchor="end" dominant-baseline="central">4</text>
<line x1="53.00" y1="466.10" x2="55.20" y2="466.10" stroke="#3a3670" stroke-width="1"/>
<line x1="51.20" y1="454.00" x2="55.20" y2="454.00" stroke="#3a3670" stroke-width="1"/>
<text x="49" y="454.50" font-size="12" font-weight="bold" fill="#2f2b62" text-anchor="end" dominant-baseline="central">6</text>
<line x1="53.00" y1="441.90" x2="55.20" y2="441.90" stroke="#3a3670" stroke-width="1"/>
<line x1="51.20" y1="429.80" x2="55.20" y2="429.80" stroke="#3a3670" stroke-width="1"/>
<text x="49" y="430.30" font-size="12" font-weight="bold" fill="#2f2b62" text-anchor="end" dominant-baseline="central">8</text>
<line x1="53.00" y1="417.70" x2="55.20" y2="417.70" stroke="#3a3670" stroke-width="1"/>
<line x1="51.20" y1="405.60" x2="55.20" y2="405.60" stroke="#3a3670" stroke-width="1"/>
<text x="49" y="406.10" font-size="12" font-weight="bold" fill="#2f2b62" text-anchor="end" dominant-baseline="central">10</text>
<line x1="53.00" y1="393.50" x2="55.20" y2="393.50" stroke="#3a3670" stroke-width="1"/>
<line x1="51.20" y1="381.40" x2="55.20" y2="381.40" stroke="#3a3670" stroke-width="1"/>
<text x="49" y="381.90" font-size="12" font-weight="bold" fill="#2f2b62" text-anchor="end" dominant-baseline="central">12</text>
<line x1="53.00" y1="369.30" x2="55.20" y2="369.30" stroke="#3a3670" stroke-width="1"/>
<line x1="51.20" y1="357.20" x2="55.20" y2="357.20" stroke="#3a3670" stroke-width="1"/>
<text x="49" y="357.70" font-size="12" font-weight="bold" fill="#2f2b62" text-anchor="end" dominant-baseline="central">14</text>
<line x1="53.00" y1="345.10" x2="55.20" y2="345.10" stroke="#3a3670" stroke-width="1"/>
<line x1="51.20" y1="333.00" x2="55.20" y2="333.00" stroke="#3a3670" stroke-width="1"/>
<text x="49" y="333.50" font-size="12" font-weight="bold" fill="#2f2b62" text-anchor="end" dominant-baseline="central">16</text>
<line x1="53.00" y1="320.90" x2="55.20" y2="320.90" stroke="#3a3670" stroke-width="1"/>
<line x1="51.20" y1="308.80" x2="55.20" y2="308.80" stroke="#3a3670" stroke-width="1"/>
<text x="49" y="309.30" font-size="12" font-weight="bold" fill="#2f2b62" text-anchor="end" dominant-baseline="central">18</text>
<line x1="53.00" y1="296.70" x2="55.20" y2="296.70" stroke="#3a3670" stroke-width="1"/>
<line x1="51.20" y1="284.60" x2="55.20" y2="284.60" stroke="#3a3670" stroke-width="1"/>
<text x="49" y="285.10" font-size="12" font-weight="bold" fill="#2f2b62" text-anchor="end" dominant-baseline="central">20</text>
<line x1="315.60" y1="478.20" x2="319.60" y2="478.20" stroke="#0f7380" stroke-width="1"/>
<text x="322.9" y="478.70" font-size="12" font-weight="bold" fill="#0f7380" dominant-baseline="central">2.8</text>
<line x1="315.60" y1="458.84" x2="317.80" y2="458.84" stroke="#0f7380" stroke-width="1"/>
<line x1="315.60" y1="439.48" x2="319.60" y2="439.48" stroke="#0f7380" stroke-width="1"/>
<text x="322.9" y="439.98" font-size="12" font-weight="bold" fill="#0f7380" dominant-baseline="central">3.2</text>
<line x1="315.60" y1="420.12" x2="317.80" y2="420.12" stroke="#0f7380" stroke-width="1"/>
<line x1="315.60" y1="400.76" x2="319.60" y2="400.76" stroke="#0f7380" stroke-width="1"/>
<text x="322.9" y="401.26" font-size="12" font-weight="bold" fill="#0f7380" dominant-baseline="central">3.6</text>
<line x1="315.60" y1="381.40" x2="317.80" y2="381.40" stroke="#0f7380" stroke-width="1"/>
<line x1="315.60" y1="362.04" x2="319.60" y2="362.04" stroke="#0f7380" stroke-width="1"/>
<text x="322.9" y="362.54" font-size="12" font-weight="bold" fill="#0f7380" dominant-baseline="central">4.0</text>
<line x1="315.60" y1="342.68" x2="317.80" y2="342.68" stroke="#0f7380" stroke-width="1"/>
<line x1="315.60" y1="323.32" x2="319.60" y2="323.32" stroke="#0f7380" stroke-width="1"/>
<text x="322.9" y="323.82" font-size="12" font-weight="bold" fill="#0f7380" dominant-baseline="central">4.4</text>
<line x1="315.60" y1="303.96" x2="317.80" y2="303.96" stroke="#0f7380" stroke-width="1"/>
<line x1="315.60" y1="284.60" x2="319.60" y2="284.60" stroke="#0f7380" stroke-width="1"/>
<text x="322.9" y="285.10" font-size="12" font-weight="bold" fill="#0f7380" dominant-baseline="central">4.8</text>
<line x1="73.80" y1="478.20" x2="73.80" y2="482.20" stroke="#333" stroke-width="1"/>
<text x="73.80" y="495.00" font-size="12" font-weight="bold" fill="#1a1a1a" text-anchor="middle">0</text>
<line x1="111.00" y1="478.20" x2="111.00" y2="482.20" stroke="#333" stroke-width="1"/>
<text x="111.00" y="495.00" font-size="12" font-weight="bold" fill="#1a1a1a" text-anchor="middle">10</text>
<line x1="148.20" y1="478.20" x2="148.20" y2="482.20" stroke="#333" stroke-width="1"/>
<text x="148.20" y="495.00" font-size="12" font-weight="bold" fill="#1a1a1a" text-anchor="middle">20</text>
<line x1="185.40" y1="478.20" x2="185.40" y2="482.20" stroke="#333" stroke-width="1"/>
<text x="185.40" y="495.00" font-size="12" font-weight="bold" fill="#1a1a1a" text-anchor="middle">30</text>
<line x1="222.60" y1="478.20" x2="222.60" y2="482.20" stroke="#333" stroke-width="1"/>
<text x="222.60" y="495.00" font-size="12" font-weight="bold" fill="#1a1a1a" text-anchor="middle">40</text>
<line x1="259.80" y1="478.20" x2="259.80" y2="482.20" stroke="#333" stroke-width="1"/>
<text x="259.80" y="495.00" font-size="12" font-weight="bold" fill="#1a1a1a" text-anchor="middle">50</text>
<line x1="297.00" y1="478.20" x2="297.00" y2="482.20" stroke="#333" stroke-width="1"/>
<text x="297.00" y="495.00" font-size="12" font-weight="bold" fill="#1a1a1a" text-anchor="middle">60</text>
<line x1="55.20" y1="478.20" x2="55.20" y2="480.40" stroke="#333" stroke-width="0.9"/>
<line x1="92.40" y1="478.20" x2="92.40" y2="480.40" stroke="#333" stroke-width="0.9"/>
<line x1="129.60" y1="478.20" x2="129.60" y2="480.40" stroke="#333" stroke-width="0.9"/>
<line x1="166.80" y1="478.20" x2="166.80" y2="480.40" stroke="#333" stroke-width="0.9"/>
<line x1="204.00" y1="478.20" x2="204.00" y2="480.40" stroke="#333" stroke-width="0.9"/>
<line x1="241.20" y1="478.20" x2="241.20" y2="480.40" stroke="#333" stroke-width="0.9"/>
<line x1="278.40" y1="478.20" x2="278.40" y2="480.40" stroke="#333" stroke-width="0.9"/>
<line x1="315.60" y1="478.20" x2="315.60" y2="480.40" stroke="#333" stroke-width="0.9"/>
<line x1="132.6" y1="454.2" x2="147.4" y2="454.2" stroke="#2f2b62" stroke-width="1.1"/>
<circle cx="139.9" cy="454.2" r="3.3" fill="url(#gp)"/>
<text x="150.1" y="452.9" font-size="10" font-weight="bold" fill="#1a1a1a" dominant-baseline="central">Dielectric constant</text>
<line x1="132.6" y1="467.4" x2="147.4" y2="467.4" stroke="#0f7380" stroke-width="1.1"/>
<circle cx="139.9" cy="467.4" r="3.3" fill="url(#gt)"/>
<text x="150.1" y="466.0" font-size="10" font-weight="bold" fill="#1a1a1a" dominant-baseline="central">Dielectric strength</text>
<text x="183.7" y="513.2" font-size="14.6" font-weight="bold" fill="#1a1a1a" text-anchor="middle">ZrO<tspan font-size="9" dy="4">2</tspan><tspan dy="-4"> fraction (vol%)</tspan></text>
<text transform="translate(25.0 393.5) rotate(-90)" font-size="14.5" font-weight="bold" fill="#2f2b62" text-anchor="middle">Dielectric constant</text>
<g transform="rotate(-90)" fill="#0f7380"><text x="-478.6" y="354.2" font-size="14.3" font-weight="bold">Dielectric strength</text><path d="M-343.6 343.6 Q-350.9 350.4 -343.6 357.2" fill="none" stroke="#0f7380" stroke-width="1.35"/><text x="-342.6" y="354.2" font-size="14.3" font-weight="bold">MV cm</text><text x="-296.3" y="349.7" font-size="8.2" stroke="#0f7380" stroke-width="0.2">-1</text><path d="M-287.7 343.6 Q-281 350.5 -287.7 357.4" fill="none" stroke="#0f7380" stroke-width="1.35"/></g>
<defs>
<filter id="afm0" x="410.8" y="262.0" width="130.7" height="125.6" filterUnits="userSpaceOnUse" color-interpolation-filters="sRGB">
<feTurbulence type="fractalNoise" baseFrequency="0.28" numOctaves="2" seed="14" result="hi0"/>
<feColorMatrix in="hi0" type="matrix" values="1 0 0 0 0  1 0 0 0 0  1 0 0 0 0  0 0 0 0 1" result="hi"/>
<feTurbulence type="fractalNoise" baseFrequency="0.08" numOctaves="2" seed="12" result="mid0"/>
<feColorMatrix in="mid0" type="matrix" values="1 0 0 0 0  1 0 0 0 0  1 0 0 0 0  0 0 0 0 1" result="mid"/>
<feTurbulence type="fractalNoise" baseFrequency="0.02" numOctaves="2" seed="6" result="lo0"/>
<feColorMatrix in="lo0" type="matrix" values="1 0 0 0 0  1 0 0 0 0  1 0 0 0 0  0 0 0 0 1" result="lo"/>
<feGaussianBlur in="SourceGraphic" stdDeviation="12" result="gr0"/>
<feColorMatrix in="gr0" type="matrix" values="1 0 0 0 0  1 0 0 0 0  1 0 0 0 0  0 0 0 0 1" result="gr"/>
<feComposite in="hi" in2="mid" operator="arithmetic" k1="0" k2="1.5200" k3="0.6080" k4="-0.5640" result="hm"/>
<feComposite in="hm" in2="lo" operator="arithmetic" k1="0" k2="1" k3="0.4180" k4="-0.2890" result="m1"/>
<feComposite in="m1" in2="gr" operator="arithmetic" k1="0" k2="1" k3="0.7600" k4="-0.3800" result="m"/>
<feColorMatrix in="m" type="matrix" values="1 0 0 0 0  1 0 0 0 0  1 0 0 0 0  0 0 0 0 1" result="g"/>
<feComponentTransfer in="g"><feFuncR type="table" tableValues="0.102 0.180 0.259 0.337 0.414 0.488 0.565 0.643 0.720 0.796 0.871 0.940 1.000"/><feFuncG type="table" tableValues="0.031 0.058 0.087 0.131 0.178 0.230 0.303 0.390 0.495 0.604 0.732 0.858 0.980"/><feFuncB type="table" tableValues="0.016 0.027 0.039 0.056 0.074 0.091 0.120 0.157 0.234 0.322 0.487 0.679 0.902"/></feComponentTransfer>
<feGaussianBlur stdDeviation="0.6"/>
</filter>
<filter id="afm1" x="549.9" y="262.2" width="131.4" height="125.3" filterUnits="userSpaceOnUse" color-interpolation-filters="sRGB">
<feTurbulence type="fractalNoise" baseFrequency="0.33" numOctaves="2" seed="25" result="hi0"/>
<feColorMatrix in="hi0" type="matrix" values="1 0 0 0 0  1 0 0 0 0  1 0 0 0 0  0 0 0 0 1" result="hi"/>
<feTurbulence type="fractalNoise" baseFrequency="0.08" numOctaves="2" seed="19" result="mid0"/>
<feColorMatrix in="mid0" type="matrix" values="1 0 0 0 0  1 0 0 0 0  1 0 0 0 0  0 0 0 0 1" result="mid"/>
<feTurbulence type="fractalNoise" baseFrequency="0.02" numOctaves="2" seed="11" result="lo0"/>
<feColorMatrix in="lo0" type="matrix" values="1 0 0 0 0  1 0 0 0 0  1 0 0 0 0  0 0 0 0 1" result="lo"/>
<feGaussianBlur in="SourceGraphic" stdDeviation="12" result="gr0"/>
<feColorMatrix in="gr0" type="matrix" values="1 0 0 0 0  1 0 0 0 0  1 0 0 0 0  0 0 0 0 1" result="gr"/>
<feComposite in="hi" in2="mid" operator="arithmetic" k1="0" k2="1.5200" k3="0.6080" k4="-0.5640" result="hm"/>
<feComposite in="hm" in2="lo" operator="arithmetic" k1="0" k2="1" k3="0.4180" k4="-0.2890" result="m1"/>
<feComposite in="m1" in2="gr" operator="arithmetic" k1="0" k2="1" k3="0.7600" k4="-0.3800" result="m"/>
<feColorMatrix in="m" type="matrix" values="1 0 0 0 0  1 0 0 0 0  1 0 0 0 0  0 0 0 0 1" result="g"/>
<feComponentTransfer in="g"><feFuncR type="table" tableValues="0.102 0.180 0.259 0.337 0.414 0.488 0.565 0.643 0.720 0.796 0.871 0.940 1.000"/><feFuncG type="table" tableValues="0.031 0.058 0.087 0.131 0.178 0.230 0.303 0.390 0.495 0.604 0.732 0.858 0.980"/><feFuncB type="table" tableValues="0.016 0.027 0.039 0.056 0.074 0.091 0.120 0.157 0.234 0.322 0.487 0.679 0.902"/></feComponentTransfer>
<feGaussianBlur stdDeviation="0.6"/>
</filter>
<filter id="afm2" x="410.8" y="396.2" width="130.7" height="125.3" filterUnits="userSpaceOnUse" color-interpolation-filters="sRGB">
<feTurbulence type="fractalNoise" baseFrequency="0.38" numOctaves="2" seed="36" result="hi0"/>
<feColorMatrix in="hi0" type="matrix" values="1 0 0 0 0  1 0 0 0 0  1 0 0 0 0  0 0 0 0 1" result="hi"/>
<feTurbulence type="fractalNoise" baseFrequency="0.08" numOctaves="2" seed="26" result="mid0"/>
<feColorMatrix in="mid0" type="matrix" values="1 0 0 0 0  1 0 0 0 0  1 0 0 0 0  0 0 0 0 1" result="mid"/>
<feTurbulence type="fractalNoise" baseFrequency="0.02" numOctaves="2" seed="16" result="lo0"/>
<feColorMatrix in="lo0" type="matrix" values="1 0 0 0 0  1 0 0 0 0  1 0 0 0 0  0 0 0 0 1" result="lo"/>
<feGaussianBlur in="SourceGraphic" stdDeviation="12" result="gr0"/>
<feColorMatrix in="gr0" type="matrix" values="1 0 0 0 0  1 0 0 0 0  1 0 0 0 0  0 0 0 0 1" result="gr"/>
<feComposite in="hi" in2="mid" operator="arithmetic" k1="0" k2="1.5200" k3="0.6080" k4="-0.5640" result="hm"/>
<feComposite in="hm" in2="lo" operator="arithmetic" k1="0" k2="1" k3="0.4180" k4="-0.2890" result="m1"/>
<feComposite in="m1" in2="gr" operator="arithmetic" k1="0" k2="1" k3="0.7600" k4="-0.3800" result="m"/>
<feColorMatrix in="m" type="matrix" values="1 0 0 0 0  1 0 0 0 0  1 0 0 0 0  0 0 0 0 1" result="g"/>
<feComponentTransfer in="g"><feFuncR type="table" tableValues="0.102 0.180 0.259 0.337 0.414 0.488 0.565 0.643 0.720 0.796 0.871 0.940 1.000"/><feFuncG type="table" tableValues="0.031 0.058 0.087 0.131 0.178 0.230 0.303 0.390 0.495 0.604 0.732 0.858 0.980"/><feFuncB type="table" tableValues="0.016 0.027 0.039 0.056 0.074 0.091 0.120 0.157 0.234 0.322 0.487 0.679 0.902"/></feComponentTransfer>
<feGaussianBlur stdDeviation="0.6"/>
</filter>
<linearGradient id="cbar" x1="0" y1="0" x2="0" y2="1"><stop offset="0" stop-color="#fffdf6"/><stop offset="0.12" stop-color="#f1e6cf"/><stop offset="0.25" stop-color="#d6b070"/><stop offset="0.36" stop-color="#b3801e"/><stop offset="0.5" stop-color="#8a4c17"/><stop offset="0.62" stop-color="#5e2611"/><stop offset="0.78" stop-color="#2a1208"/><stop offset="0.93" stop-color="#0e0804"/><stop offset="1" stop-color="#0a0805"/></linearGradient>
</defs>
<g filter="url(#afm0)">
<rect x="410.80" y="262.00" width="26.44" height="25.42" fill="rgb(115,115,115)"/>
<rect x="436.94" y="262.00" width="26.44" height="25.42" fill="rgb(102,102,102)"/>
<rect x="463.08" y="262.00" width="26.44" height="25.42" fill="rgb(89,89,89)"/>
<rect x="489.22" y="262.00" width="26.44" height="25.42" fill="rgb(97,97,97)"/>
<rect x="515.36" y="262.00" width="26.44" height="25.42" fill="rgb(115,115,115)"/>
<rect x="410.80" y="287.12" width="26.44" height="25.42" fill="rgb(128,128,128)"/>
<rect x="436.94" y="287.12" width="26.44" height="25.42" fill="rgb(128,128,128)"/>
<rect x="463.08" y="287.12" width="26.44" height="25.42" fill="rgb(107,107,107)"/>
<rect x="489.22" y="287.12" width="26.44" height="25.42" fill="rgb(140,140,140)"/>
<rect x="515.36" y="287.12" width="26.44" height="25.42" fill="rgb(158,158,158)"/>
<rect x="410.80" y="312.24" width="26.44" height="25.42" fill="rgb(158,158,158)"/>
<rect x="436.94" y="312.24" width="26.44" height="25.42" fill="rgb(148,148,148)"/>
<rect x="463.08" y="312.24" width="26.44" height="25.42" fill="rgb(133,133,133)"/>
<rect x="489.22" y="312.24" width="26.44" height="25.42" fill="rgb(128,128,128)"/>
<rect x="515.36" y="312.24" width="26.44" height="25.42" fill="rgb(128,128,128)"/>
<rect x="410.80" y="337.36" width="26.44" height="25.42" fill="rgb(148,148,148)"/>
<rect x="436.94" y="337.36" width="26.44" height="25.42" fill="rgb(140,140,140)"/>
<rect x="463.08" y="337.36" width="26.44" height="25.42" fill="rgb(122,122,122)"/>
<rect x="489.22" y="337.36" width="26.44" height="25.42" fill="rgb(102,102,102)"/>
<rect x="515.36" y="337.36" width="26.44" height="25.42" fill="rgb(115,115,115)"/>
<rect x="410.80" y="362.48" width="26.44" height="25.42" fill="rgb(128,128,128)"/>
<rect x="436.94" y="362.48" width="26.44" height="25.42" fill="rgb(102,102,102)"/>
<rect x="463.08" y="362.48" width="26.44" height="25.42" fill="rgb(97,97,97)"/>
<rect x="489.22" y="362.48" width="26.44" height="25.42" fill="rgb(107,107,107)"/>
<rect x="515.36" y="362.48" width="26.44" height="25.42" fill="rgb(115,115,115)"/>
</g>
<text x="416.2" y="278.6" font-size="13" font-weight="bold" fill="#ffffff">Hyb_0</text>
<rect x="490.7" y="379.4" width="45.5" height="3.6" fill="#ffffff"/>
<text x="511" y="374.5" font-size="10.5" font-weight="bold" fill="#ffffff">1 µm</text>
<g filter="url(#afm1)">
<rect x="549.90" y="262.20" width="26.58" height="25.36" fill="rgb(115,115,115)"/>
<rect x="576.18" y="262.20" width="26.58" height="25.36" fill="rgb(122,122,122)"/>
<rect x="602.46" y="262.20" width="26.58" height="25.36" fill="rgb(133,133,133)"/>
<rect x="628.74" y="262.20" width="26.58" height="25.36" fill="rgb(148,148,148)"/>
<rect x="655.02" y="262.20" width="26.58" height="25.36" fill="rgb(153,153,153)"/>
<rect x="549.90" y="287.26" width="26.58" height="25.36" fill="rgb(102,102,102)"/>
<rect x="576.18" y="287.26" width="26.58" height="25.36" fill="rgb(107,107,107)"/>
<rect x="602.46" y="287.26" width="26.58" height="25.36" fill="rgb(128,128,128)"/>
<rect x="628.74" y="287.26" width="26.58" height="25.36" fill="rgb(148,148,148)"/>
<rect x="655.02" y="287.26" width="26.58" height="25.36" fill="rgb(140,140,140)"/>
<rect x="549.90" y="312.32" width="26.58" height="25.36" fill="rgb(122,122,122)"/>
<rect x="576.18" y="312.32" width="26.58" height="25.36" fill="rgb(107,107,107)"/>
<rect x="602.46" y="312.32" width="26.58" height="25.36" fill="rgb(122,122,122)"/>
<rect x="628.74" y="312.32" width="26.58" height="25.36" fill="rgb(115,115,115)"/>
<rect x="655.02" y="312.32" width="26.58" height="25.36" fill="rgb(128,128,128)"/>
<rect x="549.90" y="337.38" width="26.58" height="25.36" fill="rgb(133,133,133)"/>
<rect x="576.18" y="337.38" width="26.58" height="25.36" fill="rgb(153,153,153)"/>
<rect x="602.46" y="337.38" width="26.58" height="25.36" fill="rgb(122,122,122)"/>
<rect x="628.74" y="337.38" width="26.58" height="25.36" fill="rgb(107,107,107)"/>
<rect x="655.02" y="337.38" width="26.58" height="25.36" fill="rgb(115,115,115)"/>
<rect x="549.90" y="362.44" width="26.58" height="25.36" fill="rgb(115,115,115)"/>
<rect x="576.18" y="362.44" width="26.58" height="25.36" fill="rgb(122,122,122)"/>
<rect x="602.46" y="362.44" width="26.58" height="25.36" fill="rgb(115,115,115)"/>
<rect x="628.74" y="362.44" width="26.58" height="25.36" fill="rgb(115,115,115)"/>
<rect x="655.02" y="362.44" width="26.58" height="25.36" fill="rgb(122,122,122)"/>
</g>
<text x="556.8" y="279.5" font-size="13" font-weight="bold" fill="#ffffff">Hyb_1</text>
<rect x="628" y="378.5" width="45.3" height="3.6" fill="#ffffff"/>
<text x="648" y="374.5" font-size="10.5" font-weight="bold" fill="#ffffff">1 µm</text>
<g filter="url(#afm2)">
<rect x="410.80" y="396.20" width="26.44" height="25.36" fill="rgb(128,128,128)"/>
<rect x="436.94" y="396.20" width="26.44" height="25.36" fill="rgb(115,115,115)"/>
<rect x="463.08" y="396.20" width="26.44" height="25.36" fill="rgb(115,115,115)"/>
<rect x="489.22" y="396.20" width="26.44" height="25.36" fill="rgb(128,128,128)"/>
<rect x="515.36" y="396.20" width="26.44" height="25.36" fill="rgb(133,133,133)"/>
<rect x="410.80" y="421.26" width="26.44" height="25.36" fill="rgb(140,140,140)"/>
<rect x="436.94" y="421.26" width="26.44" height="25.36" fill="rgb(115,115,115)"/>
<rect x="463.08" y="421.26" width="26.44" height="25.36" fill="rgb(102,102,102)"/>
<rect x="489.22" y="421.26" width="26.44" height="25.36" fill="rgb(122,122,122)"/>
<rect x="515.36" y="421.26" width="26.44" height="25.36" fill="rgb(148,148,148)"/>
<rect x="410.80" y="446.32" width="26.44" height="25.36" fill="rgb(148,148,148)"/>
<rect x="436.94" y="446.32" width="26.44" height="25.36" fill="rgb(122,122,122)"/>
<rect x="463.08" y="446.32" width="26.44" height="25.36" fill="rgb(107,107,107)"/>
<rect x="489.22" y="446.32" width="26.44" height="25.36" fill="rgb(115,115,115)"/>
<rect x="515.36" y="446.32" width="26.44" height="25.36" fill="rgb(133,133,133)"/>
<rect x="410.80" y="471.38" width="26.44" height="25.36" fill="rgb(140,140,140)"/>
<rect x="436.94" y="471.38" width="26.44" height="25.36" fill="rgb(128,128,128)"/>
<rect x="463.08" y="471.38" width="26.44" height="25.36" fill="rgb(115,115,115)"/>
<rect x="489.22" y="471.38" width="26.44" height="25.36" fill="rgb(122,122,122)"/>
<rect x="515.36" y="471.38" width="26.44" height="25.36" fill="rgb(128,128,128)"/>
<rect x="410.80" y="496.44" width="26.44" height="25.36" fill="rgb(122,122,122)"/>
<rect x="436.94" y="496.44" width="26.44" height="25.36" fill="rgb(107,107,107)"/>
<rect x="463.08" y="496.44" width="26.44" height="25.36" fill="rgb(102,102,102)"/>
<rect x="489.22" y="496.44" width="26.44" height="25.36" fill="rgb(115,115,115)"/>
<rect x="515.36" y="496.44" width="26.44" height="25.36" fill="rgb(122,122,122)"/>
</g>
<text x="417.5" y="413" font-size="13" font-weight="bold" fill="#ffffff">Hyb_2</text>
<rect x="491.2" y="514" width="45" height="3.6" fill="#ffffff"/>
<text x="510" y="509" font-size="10.5" font-weight="bold" fill="#ffffff">1 µm</text>
<rect x="395.3" y="415.6" width="8.8" height="98.4" fill="url(#cbar)" stroke="#aaa" stroke-width="0.6"/>
<text x="398.1" y="409.4" font-size="7" font-weight="bold" fill="#1a1a1a" text-anchor="middle">1.2 nm</text>
<text x="396.7" y="524.8" font-size="7" font-weight="bold" fill="#1a1a1a" text-anchor="middle">-1.2 nm</text>
<path d="M584.6 425.2 L622.3 464.6 L660.2 478.7" fill="none" stroke="#3a3680" stroke-width="0.9"/>
<path d="M584.6 408.6 V442.1 M583.0 408.6 H586.2 M583.0 442.1 H586.2" stroke="#4a4690" stroke-width="0.8" fill="none"/>
<circle cx="584.6" cy="425.2" r="2.9" fill="url(#gp)"/>
<path d="M622.3 456.2 V473.3 M620.7 456.2 H623.9 M620.7 473.3 H623.9" stroke="#4a4690" stroke-width="0.8" fill="none"/>
<circle cx="622.3" cy="464.6" r="2.9" fill="url(#gp)"/>
<path d="M660.2 473.8 V483.5 M658.6 473.8 H661.8 M658.6 483.5 H661.8" stroke="#4a4690" stroke-width="0.8" fill="none"/>
<circle cx="660.2" cy="478.7" r="2.9" fill="url(#gp)"/>
<rect x="565.3" y="399.5" width="114.20000000000005" height="111.19999999999999" fill="none" stroke="#333" stroke-width="0.9"/>
<line x1="563.1" y1="510.50" x2="565.3" y2="510.50" stroke="#333" stroke-width="0.7"/>
<text transform="translate(563 510.80) scale(0.78 1)" font-size="6.6" fill="#222" stroke="#222" stroke-width="0.15" text-anchor="end" dominant-baseline="central">0.20</text>
<line x1="563.9" y1="500.19" x2="565.3" y2="500.19" stroke="#333" stroke-width="0.7"/>
<line x1="563.1" y1="489.88" x2="565.3" y2="489.88" stroke="#333" stroke-width="0.7"/>
<text transform="translate(563 490.18) scale(0.78 1)" font-size="6.6" fill="#222" stroke="#222" stroke-width="0.15" text-anchor="end" dominant-baseline="central">0.25</text>
<line x1="563.9" y1="479.57" x2="565.3" y2="479.57" stroke="#333" stroke-width="0.7"/>
<line x1="563.1" y1="469.26" x2="565.3" y2="469.26" stroke="#333" stroke-width="0.7"/>
<text transform="translate(563 469.56) scale(0.78 1)" font-size="6.6" fill="#222" stroke="#222" stroke-width="0.15" text-anchor="end" dominant-baseline="central">0.30</text>
<line x1="563.9" y1="458.95" x2="565.3" y2="458.95" stroke="#333" stroke-width="0.7"/>
<line x1="563.1" y1="448.64" x2="565.3" y2="448.64" stroke="#333" stroke-width="0.7"/>
<text transform="translate(563 448.94) scale(0.78 1)" font-size="6.6" fill="#222" stroke="#222" stroke-width="0.15" text-anchor="end" dominant-baseline="central">0.35</text>
<line x1="563.9" y1="438.33" x2="565.3" y2="438.33" stroke="#333" stroke-width="0.7"/>
<line x1="563.1" y1="428.02" x2="565.3" y2="428.02" stroke="#333" stroke-width="0.7"/>
<text transform="translate(563 428.32) scale(0.78 1)" font-size="6.6" fill="#222" stroke="#222" stroke-width="0.15" text-anchor="end" dominant-baseline="central">0.40</text>
<line x1="563.9" y1="417.71" x2="565.3" y2="417.71" stroke="#333" stroke-width="0.7"/>
<line x1="563.1" y1="407.40" x2="565.3" y2="407.40" stroke="#333" stroke-width="0.7"/>
<text transform="translate(563 407.70) scale(0.78 1)" font-size="6.6" fill="#222" stroke="#222" stroke-width="0.15" text-anchor="end" dominant-baseline="central">0.45</text>
<line x1="584.6" y1="510.7" x2="584.6" y2="512.7" stroke="#333" stroke-width="0.7"/>
<text transform="translate(584.6 520.7) scale(0.78 1)" font-size="7" fill="#222" stroke="#222" stroke-width="0.15" text-anchor="middle">Hyb_0</text>
<line x1="622.3" y1="510.7" x2="622.3" y2="512.7" stroke="#333" stroke-width="0.7"/>
<text transform="translate(622.3 520.7) scale(0.78 1)" font-size="7" fill="#222" stroke="#222" stroke-width="0.15" text-anchor="middle">Hyb_1</text>
<line x1="660.2" y1="510.7" x2="660.2" y2="512.7" stroke="#333" stroke-width="0.7"/>
<text transform="translate(660.2 520.7) scale(0.78 1)" font-size="7" fill="#222" stroke="#222" stroke-width="0.15" text-anchor="middle">Hyb_2</text>
<text transform="translate(549.6 461.1) rotate(-90)" font-size="8" font-weight="bold" fill="#1a1a1a" text-anchor="middle">RMS (nm)</text>
</svg>
</body></html>
